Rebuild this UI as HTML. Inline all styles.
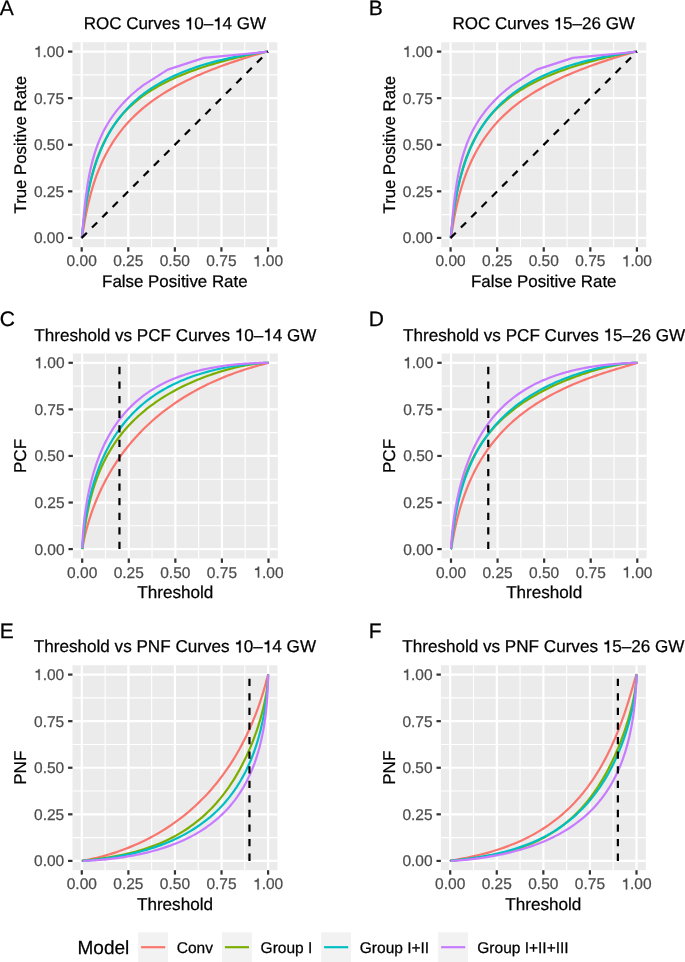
<!DOCTYPE html>
<html><head><meta charset="utf-8"><style>
html,body{margin:0;padding:0;background:#fff;}
svg{display:block;}
text{font-family:"Liberation Sans", sans-serif;text-rendering:geometricPrecision;stroke-width:0.25px;}
.mn{stroke:#fff;stroke-width:1.1;}
.mj{stroke:#fff;stroke-width:2.2;}
.tk{stroke:#333;stroke-width:2.2;}
.tl{font-size:15.5px;fill:#4D4D4D;stroke:#4D4D4D;}
.ti{font-size:17.1px;fill:#000;stroke:#000;}
.ax{font-size:17.1px;fill:#000;stroke:#000;}
.tag{font-size:21px;fill:#000;stroke:#000;}
.lt{font-size:19px;fill:#000;stroke:#000;}
.lx{font-size:15.5px;fill:#000;stroke:#000;}
.h1{fill:transparent;stroke:none;}
.cv{fill:none;stroke-width:2.2;stroke-linejoin:round;}
.ds{stroke:#000;stroke-width:2.2;stroke-dasharray:7.29 7.29;}
</style></head><body>
<div style="will-change:transform;width:685px;height:962px"><svg width="685" height="962" viewBox="0 0 685 962">
<rect x="72.39" y="42.28" width="204.93" height="204.93" fill="#EBEBEB"/>
<line x1="72.39" x2="277.31" y1="214.61" y2="214.61" class="mn"/>
<line y1="42.28" y2="247.22" x1="104.99" x2="104.99" class="mn"/>
<line x1="72.39" x2="277.31" y1="168.04" y2="168.04" class="mn"/>
<line y1="42.28" y2="247.22" x1="151.56" x2="151.56" class="mn"/>
<line x1="72.39" x2="277.31" y1="121.46" y2="121.46" class="mn"/>
<line y1="42.28" y2="247.22" x1="198.14" x2="198.14" class="mn"/>
<line x1="72.39" x2="277.31" y1="74.89" y2="74.89" class="mn"/>
<line y1="42.28" y2="247.22" x1="244.71" x2="244.71" class="mn"/>
<line x1="72.39" x2="277.31" y1="237.9" y2="237.9" class="mj"/>
<line y1="42.28" y2="247.22" x1="81.7" x2="81.7" class="mj"/>
<line x1="72.39" x2="277.31" y1="191.32" y2="191.32" class="mj"/>
<line y1="42.28" y2="247.22" x1="128.28" x2="128.28" class="mj"/>
<line x1="72.39" x2="277.31" y1="144.75" y2="144.75" class="mj"/>
<line y1="42.28" y2="247.22" x1="174.85" x2="174.85" class="mj"/>
<line x1="72.39" x2="277.31" y1="98.17" y2="98.17" class="mj"/>
<line y1="42.28" y2="247.22" x1="221.43" x2="221.43" class="mj"/>
<line x1="72.39" x2="277.31" y1="51.6" y2="51.6" class="mj"/>
<line y1="42.28" y2="247.22" x1="268" x2="268" class="mj"/>
<line x1="67.98" x2="72.39" y1="237.9" y2="237.9" class="tk"/>
<line y1="247.22" y2="251.62" x1="81.7" x2="81.7" class="tk"/>
<line x1="67.98" x2="72.39" y1="191.32" y2="191.32" class="tk"/>
<line y1="247.22" y2="251.62" x1="128.28" x2="128.28" class="tk"/>
<line x1="67.98" x2="72.39" y1="144.75" y2="144.75" class="tk"/>
<line y1="247.22" y2="251.62" x1="174.85" x2="174.85" class="tk"/>
<line x1="67.98" x2="72.39" y1="98.17" y2="98.17" class="tk"/>
<line y1="247.22" y2="251.62" x1="221.43" x2="221.43" class="tk"/>
<line x1="67.98" x2="72.39" y1="51.6" y2="51.6" class="tk"/>
<line y1="247.22" y2="251.62" x1="268" x2="268" class="tk"/>
<text x="64.09" y="243.35" class="tl" text-anchor="end">0.00</text>
<text x="81.7" y="266.42" class="tl" text-anchor="middle">0.00</text>
<text x="64.09" y="196.77" class="tl" text-anchor="end">0.25</text>
<text x="128.28" y="266.42" class="tl" text-anchor="middle">0.25</text>
<text x="64.09" y="150.2" class="tl" text-anchor="end">0.50</text>
<text x="174.85" y="266.42" class="tl" text-anchor="middle">0.50</text>
<text x="64.09" y="103.62" class="tl" text-anchor="end">0.75</text>
<text x="221.43" y="266.42" class="tl" text-anchor="middle">0.75</text>
<text x="64.09" y="57.05" class="tl" text-anchor="end"><tspan id="o1" class="h1">1</tspan>.00</text>
<text x="268" y="266.42" class="tl" text-anchor="middle"><tspan id="o2" class="h1">1</tspan>.00</text>
<polyline points="81.70,237.90 81.72,237.90 81.72,237.90 81.73,237.89 81.73,237.89 81.74,237.89 81.75,237.88 81.76,237.87 81.77,237.86 81.78,237.84 81.80,237.82 81.81,237.78 81.83,237.74 81.86,237.67 81.88,237.60 81.91,237.49 81.95,237.37 81.99,237.20 82.04,237.00 82.09,236.75 82.15,236.45 82.22,236.09 82.30,235.66 82.39,235.15 82.50,234.56 82.61,233.87 82.74,233.08 82.89,232.18 83.06,231.16 83.24,230.02 83.45,228.74 83.68,227.34 83.93,225.79 84.22,224.10 84.54,222.27 84.89,220.29 85.27,218.17 85.70,215.91 86.16,213.51 86.68,210.98 87.24,208.32 87.85,205.54 88.51,202.64 89.24,199.64 90.02,196.54 90.87,193.35 91.79,190.08 92.78,186.75 93.85,183.35 94.99,179.90 96.21,176.42 97.51,172.90 98.91,169.37 100.38,165.83 101.96,162.28 103.62,158.74 105.38,155.22 107.23,151.72 109.18,148.25 111.23,144.82 113.37,141.43 115.62,138.09 117.96,134.81 120.39,131.58 122.92,128.41 125.54,125.31 128.25,122.27 131.05,119.31 133.93,116.42 136.89,113.61 139.93,110.87 143.03,108.20 146.20,105.62 149.42,103.11 152.70,100.68 156.03,98.33 159.40,96.05 162.80,93.85 166.22,91.73 169.67,89.68 173.12,87.71 176.58,85.81 180.03,83.98 183.48,82.22 186.90,80.53 190.30,78.90 193.67,77.35 197.00,75.85 200.28,74.42 203.50,73.05 206.67,71.75 209.77,70.50 212.81,69.30 215.77,68.16 218.65,67.08 221.45,66.05 224.16,65.07 226.78,64.13 229.31,63.25 231.74,62.41 234.08,61.61 236.33,60.86 238.47,60.15 240.52,59.48 242.47,58.85 244.32,58.26 246.08,57.71 247.74,57.19 249.32,56.70 250.79,56.24 252.19,55.82 253.49,55.42 254.71,55.06 255.85,54.72 256.92,54.40 257.91,54.12 258.83,53.85 259.68,53.61 260.46,53.38 261.19,53.18 261.85,53.00 262.46,52.83 263.02,52.68 263.54,52.54 264.00,52.42 264.43,52.31 264.81,52.21 265.16,52.13 265.48,52.05 265.77,51.98 266.02,51.93 266.25,51.87 266.46,51.83 266.64,51.79 266.81,51.76 266.96,51.73 267.09,51.71 267.20,51.69 267.31,51.67 267.40,51.66 267.48,51.65 267.55,51.64 267.61,51.63 267.66,51.62 267.71,51.62 267.75,51.61 267.79,51.61 267.82,51.61 267.84,51.61 267.87,51.60 267.89,51.60 267.90,51.60 267.92,51.60 267.93,51.60 267.94,51.60 267.95,51.60 267.96,51.60 267.97,51.60 267.97,51.60 267.98,51.60 267.98,51.60 268.00,51.60" stroke="#F8766D" class="cv"/>
<polyline points="81.70,237.90 81.72,237.90 81.72,237.89 81.73,237.89 81.73,237.88 81.74,237.88 81.75,237.86 81.76,237.85 81.77,237.82 81.78,237.79 81.80,237.74 81.81,237.68 81.83,237.59 81.86,237.48 81.88,237.34 81.91,237.16 81.95,236.94 81.99,236.66 82.04,236.32 82.09,235.90 82.15,235.40 82.22,234.81 82.30,234.12 82.39,233.32 82.50,232.39 82.61,231.34 82.74,230.14 82.89,228.80 83.06,227.30 83.24,225.65 83.45,223.84 83.68,221.87 83.93,219.73 84.22,217.44 84.54,214.99 84.89,212.38 85.27,209.63 85.70,206.74 86.16,203.72 86.68,200.57 87.24,197.31 87.85,193.96 88.51,190.51 89.24,186.99 90.02,183.40 90.87,179.76 91.79,176.08 92.78,172.36 93.85,168.64 94.99,164.90 96.21,161.17 97.51,157.46 98.91,153.77 100.38,150.11 101.96,146.49 103.62,142.93 105.38,139.41 107.23,135.96 109.18,132.57 111.23,129.26 113.37,126.02 115.62,122.85 117.96,119.77 120.39,116.77 122.92,113.86 125.54,111.03 128.25,108.29 131.05,105.63 133.93,103.06 136.89,100.58 139.93,98.18 143.03,95.87 146.20,93.64 149.42,91.50 152.70,89.43 156.03,87.45 159.40,85.54 162.80,83.71 166.22,81.96 169.67,80.27 173.12,78.66 176.58,77.11 180.03,75.64 183.48,74.22 186.90,72.87 190.30,71.59 193.67,70.36 197.00,69.18 200.28,68.06 203.50,67.00 206.67,65.99 209.77,65.03 212.81,64.11 215.77,63.24 218.65,62.42 221.45,61.64 224.16,60.91 226.78,60.21 229.31,59.55 231.74,58.93 234.08,58.35 236.33,57.80 238.47,57.29 240.52,56.81 242.47,56.35 244.32,55.93 246.08,55.54 247.74,55.17 249.32,54.83 250.79,54.52 252.19,54.23 253.49,53.96 254.71,53.71 255.85,53.48 256.92,53.27 257.91,53.08 258.83,52.91 259.68,52.75 260.46,52.61 261.19,52.49 261.85,52.37 262.46,52.27 263.02,52.18 263.54,52.10 264.00,52.02 264.43,51.96 264.81,51.91 265.16,51.86 265.48,51.82 265.77,51.78 266.02,51.75 266.25,51.72 266.46,51.70 266.64,51.68 266.81,51.67 266.96,51.65 267.09,51.64 267.20,51.63 267.31,51.63 267.40,51.62 267.48,51.62 267.55,51.61 267.61,51.61 267.66,51.61 267.71,51.61 267.75,51.60 267.79,51.60 267.82,51.60 267.84,51.60 267.87,51.60 267.89,51.60 267.90,51.60 267.92,51.60 267.93,51.60 267.94,51.60 267.95,51.60 267.96,51.60 267.97,51.60 267.97,51.60 267.98,51.60 267.98,51.60 268.00,51.60" stroke="#7CAE00" class="cv"/>
<polyline points="81.70,237.90 81.72,237.86 81.72,237.84 81.73,237.82 81.73,237.79 81.74,237.75 81.75,237.71 81.76,237.65 81.77,237.58 81.78,237.48 81.80,237.37 81.81,237.23 81.83,237.06 81.86,236.85 81.88,236.61 81.91,236.32 81.95,235.98 81.99,235.57 82.04,235.11 82.09,234.57 82.15,233.95 82.22,233.24 82.30,232.45 82.39,231.55 82.50,230.54 82.61,229.43 82.74,228.19 82.89,226.83 83.06,225.34 83.24,223.72 83.45,221.96 83.68,220.07 83.93,218.04 84.22,215.87 84.54,213.56 84.89,211.12 85.27,208.54 85.70,205.84 86.16,203.01 86.68,200.07 87.24,197.01 87.85,193.85 88.51,190.59 89.24,187.24 90.02,183.82 90.87,180.33 91.79,176.77 92.78,173.17 93.85,169.53 94.99,165.86 96.21,162.17 97.51,158.47 98.91,154.77 100.38,151.08 101.96,147.41 103.62,143.77 105.38,140.16 107.23,136.60 109.18,133.08 111.23,129.63 113.37,126.23 115.62,122.91 117.96,119.66 120.39,116.48 122.92,113.39 125.54,110.38 128.25,107.47 131.05,104.64 133.93,101.90 136.89,99.25 139.93,96.70 143.03,94.25 146.20,91.88 149.42,89.61 152.70,87.44 156.03,85.35 159.40,83.36 162.80,81.46 166.22,79.64 169.67,77.91 173.12,76.26 176.58,74.70 180.03,73.21 183.48,71.80 186.90,70.47 190.30,69.21 193.67,68.01 197.00,66.88 200.28,65.82 203.50,64.82 206.67,63.88 209.77,62.99 212.81,62.16 215.77,61.38 218.65,60.65 221.45,59.96 224.16,59.32 226.78,58.72 229.31,58.16 231.74,57.64 234.08,57.15 236.33,56.70 238.47,56.28 240.52,55.89 242.47,55.53 244.32,55.19 246.08,54.88 247.74,54.59 249.32,54.33 250.79,54.08 252.19,53.86 253.49,53.65 254.71,53.46 255.85,53.28 256.92,53.12 257.91,52.97 258.83,52.84 259.68,52.72 260.46,52.60 261.19,52.50 261.85,52.41 262.46,52.32 263.02,52.25 263.54,52.18 264.00,52.11 264.43,52.06 264.81,52.01 265.16,51.96 265.48,51.92 265.77,51.88 266.02,51.85 266.25,51.82 266.46,51.79 266.64,51.77 266.81,51.75 266.96,51.73 267.09,51.71 267.20,51.70 267.31,51.68 267.40,51.67 267.48,51.66 267.55,51.65 267.61,51.65 267.66,51.64 267.71,51.63 267.75,51.63 267.79,51.62 267.82,51.62 267.84,51.62 267.87,51.61 267.89,51.61 267.90,51.61 267.92,51.61 267.93,51.61 267.94,51.61 267.95,51.60 267.96,51.60 267.97,51.60 267.97,51.60 267.98,51.60 267.98,51.60 268.00,51.60" stroke="#00BFC4" class="cv"/>
<polyline points="81.70,237.90 81.72,237.90 81.72,237.90 81.73,237.90 81.73,237.90 81.74,237.90 81.75,237.90 81.76,237.89 81.77,237.88 81.78,237.87 81.80,237.85 81.81,237.82 81.83,237.77 81.86,237.69 81.88,237.58 81.91,237.43 81.95,237.22 81.99,236.94 82.04,236.57 82.09,236.10 82.15,235.51 82.22,234.78 82.30,233.90 82.39,232.84 82.50,231.61 82.61,230.17 82.74,228.54 82.89,226.70 83.06,224.65 83.24,222.40 83.45,219.94 83.68,217.28 83.93,214.44 84.22,211.43 84.54,208.25 84.89,204.94 85.27,201.49 85.70,197.94 86.16,194.30 86.68,190.57 87.24,186.79 87.85,182.97 88.51,179.12 89.24,175.25 90.02,171.38 90.87,167.52 91.79,163.67 92.78,159.86 93.85,156.08 94.99,152.35 96.21,148.66 97.51,145.02 98.91,141.44 100.38,137.92 101.96,134.47 103.62,131.07 105.38,127.74 107.23,124.47 109.18,121.26 111.23,118.13 113.37,115.05 115.62,112.04 117.96,109.09 120.39,106.21 122.92,103.39 125.54,100.63 128.25,97.94 131.05,95.30 133.93,92.74 136.89,90.23 139.93,87.80 143.03,85.43 167.77,69.67 203.91,57.84 219.93,56.44 244.53,54.02 268.00,51.60" stroke="#C77CFF" class="cv"/>
<line x1="81.7" y1="237.9" x2="268" y2="51.6" class="ds"/>
<text x="174.85" y="29.48" class="ti" text-anchor="middle" style="font-size:17px">ROC Curves <tspan id="o3" class="h1">1</tspan>0–<tspan id="o4" class="h1">1</tspan>4 GW</text>
<text x="174.85" y="286.62" class="ax" text-anchor="middle" style="font-size:16.9px">False Positive Rate</text>
<text transform="translate(26.2,144.75) rotate(-90)" class="ax" text-anchor="middle" style="font-size:16.8px">True Positive Rate</text>
<text x="-0.2" y="14.93" class="tag">A</text>
<rect x="441.29" y="42.28" width="204.93" height="204.93" fill="#EBEBEB"/>
<line x1="441.29" x2="646.22" y1="214.61" y2="214.61" class="mn"/>
<line y1="42.28" y2="247.22" x1="473.89" x2="473.89" class="mn"/>
<line x1="441.29" x2="646.22" y1="168.04" y2="168.04" class="mn"/>
<line y1="42.28" y2="247.22" x1="520.46" x2="520.46" class="mn"/>
<line x1="441.29" x2="646.22" y1="121.46" y2="121.46" class="mn"/>
<line y1="42.28" y2="247.22" x1="567.04" x2="567.04" class="mn"/>
<line x1="441.29" x2="646.22" y1="74.89" y2="74.89" class="mn"/>
<line y1="42.28" y2="247.22" x1="613.61" x2="613.61" class="mn"/>
<line x1="441.29" x2="646.22" y1="237.9" y2="237.9" class="mj"/>
<line y1="42.28" y2="247.22" x1="450.6" x2="450.6" class="mj"/>
<line x1="441.29" x2="646.22" y1="191.32" y2="191.32" class="mj"/>
<line y1="42.28" y2="247.22" x1="497.18" x2="497.18" class="mj"/>
<line x1="441.29" x2="646.22" y1="144.75" y2="144.75" class="mj"/>
<line y1="42.28" y2="247.22" x1="543.75" x2="543.75" class="mj"/>
<line x1="441.29" x2="646.22" y1="98.17" y2="98.17" class="mj"/>
<line y1="42.28" y2="247.22" x1="590.33" x2="590.33" class="mj"/>
<line x1="441.29" x2="646.22" y1="51.6" y2="51.6" class="mj"/>
<line y1="42.28" y2="247.22" x1="636.9" x2="636.9" class="mj"/>
<line x1="436.89" x2="441.29" y1="237.9" y2="237.9" class="tk"/>
<line y1="247.22" y2="251.62" x1="450.6" x2="450.6" class="tk"/>
<line x1="436.89" x2="441.29" y1="191.32" y2="191.32" class="tk"/>
<line y1="247.22" y2="251.62" x1="497.18" x2="497.18" class="tk"/>
<line x1="436.89" x2="441.29" y1="144.75" y2="144.75" class="tk"/>
<line y1="247.22" y2="251.62" x1="543.75" x2="543.75" class="tk"/>
<line x1="436.89" x2="441.29" y1="98.17" y2="98.17" class="tk"/>
<line y1="247.22" y2="251.62" x1="590.33" x2="590.33" class="tk"/>
<line x1="436.89" x2="441.29" y1="51.6" y2="51.6" class="tk"/>
<line y1="247.22" y2="251.62" x1="636.9" x2="636.9" class="tk"/>
<text x="432.99" y="243.35" class="tl" text-anchor="end">0.00</text>
<text x="450.6" y="266.42" class="tl" text-anchor="middle">0.00</text>
<text x="432.99" y="196.77" class="tl" text-anchor="end">0.25</text>
<text x="497.18" y="266.42" class="tl" text-anchor="middle">0.25</text>
<text x="432.99" y="150.2" class="tl" text-anchor="end">0.50</text>
<text x="543.75" y="266.42" class="tl" text-anchor="middle">0.50</text>
<text x="432.99" y="103.62" class="tl" text-anchor="end">0.75</text>
<text x="590.33" y="266.42" class="tl" text-anchor="middle">0.75</text>
<text x="432.99" y="57.05" class="tl" text-anchor="end"><tspan id="o5" class="h1">1</tspan>.00</text>
<text x="636.9" y="266.42" class="tl" text-anchor="middle"><tspan id="o6" class="h1">1</tspan>.00</text>
<polyline points="450.60,237.90 450.62,237.90 450.62,237.90 450.63,237.89 450.63,237.89 450.64,237.89 450.65,237.88 450.66,237.87 450.67,237.86 450.68,237.84 450.70,237.82 450.71,237.78 450.73,237.74 450.76,237.67 450.78,237.60 450.81,237.49 450.85,237.37 450.89,237.20 450.94,237.00 450.99,236.75 451.05,236.45 451.12,236.09 451.20,235.66 451.29,235.15 451.40,234.56 451.51,233.87 451.64,233.08 451.79,232.18 451.96,231.16 452.14,230.02 452.35,228.74 452.58,227.34 452.83,225.79 453.12,224.10 453.44,222.27 453.79,220.29 454.17,218.17 454.60,215.91 455.06,213.51 455.58,210.98 456.14,208.32 456.75,205.54 457.41,202.64 458.14,199.64 458.92,196.54 459.77,193.35 460.69,190.08 461.68,186.75 462.75,183.35 463.89,179.90 465.11,176.42 466.41,172.90 467.81,169.37 469.28,165.83 470.86,162.28 472.52,158.74 474.28,155.22 476.13,151.72 478.08,148.25 480.13,144.82 482.27,141.43 484.52,138.09 486.86,134.81 489.29,131.58 491.82,128.41 494.44,125.31 497.15,122.27 499.95,119.31 502.83,116.42 505.79,113.61 508.83,110.87 511.93,108.20 515.10,105.62 518.32,103.11 521.60,100.68 524.93,98.33 528.30,96.05 531.70,93.85 535.12,91.73 538.57,89.68 542.02,87.71 545.48,85.81 548.93,83.98 552.38,82.22 555.80,80.53 559.20,78.90 562.57,77.35 565.90,75.85 569.18,74.42 572.40,73.05 575.57,71.75 578.67,70.50 581.71,69.30 584.67,68.16 587.55,67.08 590.35,66.05 593.06,65.07 595.68,64.13 598.21,63.25 600.64,62.41 602.98,61.61 605.23,60.86 607.37,60.15 609.42,59.48 611.37,58.85 613.22,58.26 614.98,57.71 616.64,57.19 618.22,56.70 619.69,56.24 621.09,55.82 622.39,55.42 623.61,55.06 624.75,54.72 625.82,54.40 626.81,54.12 627.73,53.85 628.58,53.61 629.36,53.38 630.09,53.18 630.75,53.00 631.36,52.83 631.92,52.68 632.44,52.54 632.90,52.42 633.33,52.31 633.71,52.21 634.06,52.13 634.38,52.05 634.67,51.98 634.92,51.93 635.15,51.87 635.36,51.83 635.54,51.79 635.71,51.76 635.86,51.73 635.99,51.71 636.10,51.69 636.21,51.67 636.30,51.66 636.38,51.65 636.45,51.64 636.51,51.63 636.56,51.62 636.61,51.62 636.65,51.61 636.69,51.61 636.72,51.61 636.74,51.61 636.77,51.60 636.79,51.60 636.80,51.60 636.82,51.60 636.83,51.60 636.84,51.60 636.85,51.60 636.86,51.60 636.87,51.60 636.87,51.60 636.88,51.60 636.88,51.60 636.90,51.60" stroke="#F8766D" class="cv"/>
<polyline points="450.60,237.90 450.62,237.90 450.62,237.89 450.63,237.89 450.63,237.88 450.64,237.88 450.65,237.86 450.66,237.85 450.67,237.82 450.68,237.79 450.70,237.74 450.71,237.68 450.73,237.59 450.76,237.48 450.78,237.34 450.81,237.16 450.85,236.94 450.89,236.66 450.94,236.32 450.99,235.90 451.05,235.40 451.12,234.81 451.20,234.12 451.29,233.32 451.40,232.39 451.51,231.34 451.64,230.14 451.79,228.80 451.96,227.30 452.14,225.65 452.35,223.84 452.58,221.87 452.83,219.73 453.12,217.44 453.44,214.99 453.79,212.38 454.17,209.63 454.60,206.74 455.06,203.72 455.58,200.57 456.14,197.31 456.75,193.96 457.41,190.51 458.14,186.99 458.92,183.40 459.77,179.76 460.69,176.08 461.68,172.36 462.75,168.64 463.89,164.90 465.11,161.17 466.41,157.46 467.81,153.77 469.28,150.11 470.86,146.49 472.52,142.93 474.28,139.41 476.13,135.96 478.08,132.57 480.13,129.26 482.27,126.02 484.52,122.85 486.86,119.77 489.29,116.77 491.82,113.86 494.44,111.03 497.15,108.29 499.95,105.63 502.83,103.06 505.79,100.58 508.83,98.18 511.93,95.87 515.10,93.64 518.32,91.50 521.60,89.43 524.93,87.45 528.30,85.54 531.70,83.71 535.12,81.96 538.57,80.27 542.02,78.66 545.48,77.11 548.93,75.64 552.38,74.22 555.80,72.87 559.20,71.59 562.57,70.36 565.90,69.18 569.18,68.06 572.40,67.00 575.57,65.99 578.67,65.03 581.71,64.11 584.67,63.24 587.55,62.42 590.35,61.64 593.06,60.91 595.68,60.21 598.21,59.55 600.64,58.93 602.98,58.35 605.23,57.80 607.37,57.29 609.42,56.81 611.37,56.35 613.22,55.93 614.98,55.54 616.64,55.17 618.22,54.83 619.69,54.52 621.09,54.23 622.39,53.96 623.61,53.71 624.75,53.48 625.82,53.27 626.81,53.08 627.73,52.91 628.58,52.75 629.36,52.61 630.09,52.49 630.75,52.37 631.36,52.27 631.92,52.18 632.44,52.10 632.90,52.02 633.33,51.96 633.71,51.91 634.06,51.86 634.38,51.82 634.67,51.78 634.92,51.75 635.15,51.72 635.36,51.70 635.54,51.68 635.71,51.67 635.86,51.65 635.99,51.64 636.10,51.63 636.21,51.63 636.30,51.62 636.38,51.62 636.45,51.61 636.51,51.61 636.56,51.61 636.61,51.61 636.65,51.60 636.69,51.60 636.72,51.60 636.74,51.60 636.77,51.60 636.79,51.60 636.80,51.60 636.82,51.60 636.83,51.60 636.84,51.60 636.85,51.60 636.86,51.60 636.87,51.60 636.87,51.60 636.88,51.60 636.88,51.60 636.90,51.60" stroke="#7CAE00" class="cv"/>
<polyline points="450.60,237.90 450.62,237.86 450.62,237.84 450.63,237.82 450.63,237.79 450.64,237.75 450.65,237.71 450.66,237.65 450.67,237.58 450.68,237.48 450.70,237.37 450.71,237.23 450.73,237.06 450.76,236.85 450.78,236.61 450.81,236.32 450.85,235.98 450.89,235.57 450.94,235.11 450.99,234.57 451.05,233.95 451.12,233.24 451.20,232.45 451.29,231.55 451.40,230.54 451.51,229.43 451.64,228.19 451.79,226.83 451.96,225.34 452.14,223.72 452.35,221.96 452.58,220.07 452.83,218.04 453.12,215.87 453.44,213.56 453.79,211.12 454.17,208.54 454.60,205.84 455.06,203.01 455.58,200.07 456.14,197.01 456.75,193.85 457.41,190.59 458.14,187.24 458.92,183.82 459.77,180.33 460.69,176.77 461.68,173.17 462.75,169.53 463.89,165.86 465.11,162.17 466.41,158.47 467.81,154.77 469.28,151.08 470.86,147.41 472.52,143.77 474.28,140.16 476.13,136.60 478.08,133.08 480.13,129.63 482.27,126.23 484.52,122.91 486.86,119.66 489.29,116.48 491.82,113.39 494.44,110.38 497.15,107.47 499.95,104.64 502.83,101.90 505.79,99.25 508.83,96.70 511.93,94.25 515.10,91.88 518.32,89.61 521.60,87.44 524.93,85.35 528.30,83.36 531.70,81.46 535.12,79.64 538.57,77.91 542.02,76.26 545.48,74.70 548.93,73.21 552.38,71.80 555.80,70.47 559.20,69.21 562.57,68.01 565.90,66.88 569.18,65.82 572.40,64.82 575.57,63.88 578.67,62.99 581.71,62.16 584.67,61.38 587.55,60.65 590.35,59.96 593.06,59.32 595.68,58.72 598.21,58.16 600.64,57.64 602.98,57.15 605.23,56.70 607.37,56.28 609.42,55.89 611.37,55.53 613.22,55.19 614.98,54.88 616.64,54.59 618.22,54.33 619.69,54.08 621.09,53.86 622.39,53.65 623.61,53.46 624.75,53.28 625.82,53.12 626.81,52.97 627.73,52.84 628.58,52.72 629.36,52.60 630.09,52.50 630.75,52.41 631.36,52.32 631.92,52.25 632.44,52.18 632.90,52.11 633.33,52.06 633.71,52.01 634.06,51.96 634.38,51.92 634.67,51.88 634.92,51.85 635.15,51.82 635.36,51.79 635.54,51.77 635.71,51.75 635.86,51.73 635.99,51.71 636.10,51.70 636.21,51.68 636.30,51.67 636.38,51.66 636.45,51.65 636.51,51.65 636.56,51.64 636.61,51.63 636.65,51.63 636.69,51.62 636.72,51.62 636.74,51.62 636.77,51.61 636.79,51.61 636.80,51.61 636.82,51.61 636.83,51.61 636.84,51.61 636.85,51.60 636.86,51.60 636.87,51.60 636.87,51.60 636.88,51.60 636.88,51.60 636.90,51.60" stroke="#00BFC4" class="cv"/>
<polyline points="450.60,237.90 450.62,237.90 450.62,237.90 450.63,237.90 450.63,237.90 450.64,237.90 450.65,237.90 450.66,237.89 450.67,237.88 450.68,237.87 450.70,237.85 450.71,237.82 450.73,237.77 450.76,237.69 450.78,237.58 450.81,237.43 450.85,237.22 450.89,236.94 450.94,236.57 450.99,236.10 451.05,235.51 451.12,234.78 451.20,233.90 451.29,232.84 451.40,231.61 451.51,230.17 451.64,228.54 451.79,226.70 451.96,224.65 452.14,222.40 452.35,219.94 452.58,217.28 452.83,214.44 453.12,211.43 453.44,208.25 453.79,204.94 454.17,201.49 454.60,197.94 455.06,194.30 455.58,190.57 456.14,186.79 456.75,182.97 457.41,179.12 458.14,175.25 458.92,171.38 459.77,167.52 460.69,163.67 461.68,159.86 462.75,156.08 463.89,152.35 465.11,148.66 466.41,145.02 467.81,141.44 469.28,137.92 470.86,134.47 472.52,131.07 474.28,127.74 476.13,124.47 478.08,121.26 480.13,118.13 482.27,115.05 484.52,112.04 486.86,109.09 489.29,106.21 491.82,103.39 494.44,100.63 497.15,97.94 499.95,95.30 502.83,92.74 505.79,90.23 508.83,87.80 511.93,85.43 536.67,69.67 572.81,57.84 588.83,56.44 613.43,54.02 636.90,51.60" stroke="#C77CFF" class="cv"/>
<line x1="450.6" y1="237.9" x2="636.9" y2="51.6" class="ds"/>
<text x="543.75" y="29.48" class="ti" text-anchor="middle" style="font-size:17px">ROC Curves <tspan id="o7" class="h1">1</tspan>5–26 GW</text>
<text x="543.75" y="286.62" class="ax" text-anchor="middle" style="font-size:16.9px">False Positive Rate</text>
<text transform="translate(395.2,144.75) rotate(-90)" class="ax" text-anchor="middle" style="font-size:16.8px">True Positive Rate</text>
<text x="368.8" y="14.93" class="tag">B</text>
<rect x="72.89" y="353.49" width="204.93" height="204.93" fill="#EBEBEB"/>
<line x1="72.89" x2="277.81" y1="525.81" y2="525.81" class="mn"/>
<line y1="353.49" y2="558.42" x1="105.49" x2="105.49" class="mn"/>
<line x1="72.89" x2="277.81" y1="479.24" y2="479.24" class="mn"/>
<line y1="353.49" y2="558.42" x1="152.06" x2="152.06" class="mn"/>
<line x1="72.89" x2="277.81" y1="432.66" y2="432.66" class="mn"/>
<line y1="353.49" y2="558.42" x1="198.64" x2="198.64" class="mn"/>
<line x1="72.89" x2="277.81" y1="386.09" y2="386.09" class="mn"/>
<line y1="353.49" y2="558.42" x1="245.21" x2="245.21" class="mn"/>
<line x1="72.89" x2="277.81" y1="549.1" y2="549.1" class="mj"/>
<line y1="353.49" y2="558.42" x1="82.2" x2="82.2" class="mj"/>
<line x1="72.89" x2="277.81" y1="502.53" y2="502.53" class="mj"/>
<line y1="353.49" y2="558.42" x1="128.78" x2="128.78" class="mj"/>
<line x1="72.89" x2="277.81" y1="455.95" y2="455.95" class="mj"/>
<line y1="353.49" y2="558.42" x1="175.35" x2="175.35" class="mj"/>
<line x1="72.89" x2="277.81" y1="409.38" y2="409.38" class="mj"/>
<line y1="353.49" y2="558.42" x1="221.93" x2="221.93" class="mj"/>
<line x1="72.89" x2="277.81" y1="362.8" y2="362.8" class="mj"/>
<line y1="353.49" y2="558.42" x1="268.5" x2="268.5" class="mj"/>
<line x1="68.48" x2="72.89" y1="549.1" y2="549.1" class="tk"/>
<line y1="558.42" y2="562.82" x1="82.2" x2="82.2" class="tk"/>
<line x1="68.48" x2="72.89" y1="502.53" y2="502.53" class="tk"/>
<line y1="558.42" y2="562.82" x1="128.78" x2="128.78" class="tk"/>
<line x1="68.48" x2="72.89" y1="455.95" y2="455.95" class="tk"/>
<line y1="558.42" y2="562.82" x1="175.35" x2="175.35" class="tk"/>
<line x1="68.48" x2="72.89" y1="409.38" y2="409.38" class="tk"/>
<line y1="558.42" y2="562.82" x1="221.93" x2="221.93" class="tk"/>
<line x1="68.48" x2="72.89" y1="362.8" y2="362.8" class="tk"/>
<line y1="558.42" y2="562.82" x1="268.5" x2="268.5" class="tk"/>
<text x="64.59" y="554.55" class="tl" text-anchor="end">0.00</text>
<text x="82.2" y="577.62" class="tl" text-anchor="middle">0.00</text>
<text x="64.59" y="507.98" class="tl" text-anchor="end">0.25</text>
<text x="128.78" y="577.62" class="tl" text-anchor="middle">0.25</text>
<text x="64.59" y="461.4" class="tl" text-anchor="end">0.50</text>
<text x="175.35" y="577.62" class="tl" text-anchor="middle">0.50</text>
<text x="64.59" y="414.82" class="tl" text-anchor="end">0.75</text>
<text x="221.93" y="577.62" class="tl" text-anchor="middle">0.75</text>
<text x="64.59" y="368.25" class="tl" text-anchor="end"><tspan id="o8" class="h1">1</tspan>.00</text>
<text x="268.5" y="577.62" class="tl" text-anchor="middle"><tspan id="o9" class="h1">1</tspan>.00</text>
<polyline points="82.22,549.03 82.22,549.01 82.23,548.99 82.23,548.96 82.24,548.92 82.25,548.88 82.26,548.84 82.27,548.78 82.28,548.71 82.30,548.63 82.31,548.53 82.33,548.42 82.36,548.29 82.38,548.14 82.41,547.97 82.45,547.76 82.49,547.53 82.54,547.27 82.59,546.97 82.65,546.62 82.72,546.24 82.80,545.80 82.89,545.31 83.00,544.77 83.11,544.16 83.24,543.49 83.39,542.75 83.56,541.93 83.74,541.03 83.95,540.05 84.18,538.99 84.43,537.83 84.72,536.58 85.04,535.22 85.39,533.77 85.77,532.22 86.20,530.55 86.66,528.78 87.18,526.90 87.74,524.91 88.35,522.82 89.01,520.61 89.74,518.29 90.52,515.87 91.37,513.34 92.29,510.71 93.28,507.99 94.35,505.17 95.49,502.26 96.71,499.26 98.01,496.19 99.41,493.04 100.88,489.83 102.46,486.56 104.12,483.23 105.88,479.86 107.73,476.46 109.68,473.02 111.73,469.56 113.87,466.08 116.12,462.60 118.46,459.12 120.89,455.65 123.42,452.20 126.04,448.77 128.75,445.37 131.55,442.01 134.43,438.69 137.39,435.42 140.43,432.21 143.53,429.06 146.70,425.97 149.92,422.95 153.20,420.01 156.53,417.15 159.90,414.36 163.30,411.66 166.72,409.05 170.17,406.52 173.62,404.08 177.08,401.73 180.53,399.47 183.98,397.30 187.40,395.23 190.80,393.24 194.17,391.34 197.50,389.52 200.78,387.80 204.00,386.16 207.17,384.60 210.27,383.12 213.31,381.72 216.27,380.40 219.15,379.15 221.95,377.98 224.66,376.87 227.28,375.83 229.81,374.85 232.24,373.94 234.58,373.08 236.83,372.28 238.97,371.53 241.02,370.84 242.97,370.19 244.82,369.58 246.58,369.02 248.24,368.50 249.82,368.02 251.29,367.58 252.69,367.16 253.99,366.78 255.21,366.43 256.35,366.11 257.42,365.81 258.41,365.54 259.33,365.29 260.18,365.06 260.96,364.85 261.69,364.65 262.35,364.48 262.96,364.32 263.52,364.17 264.04,364.04 264.50,363.92 264.93,363.81 265.31,363.71 265.66,363.61 265.98,363.53 266.27,363.46 266.52,363.39 266.75,363.33 266.96,363.27 267.14,363.22 267.31,363.18 267.46,363.14 267.59,363.10 267.70,363.07 267.81,363.04 267.90,363.01 267.98,362.99 268.05,362.97 268.11,362.95 268.16,362.93 268.21,362.92 268.25,362.90 268.29,362.89 268.32,362.88 268.34,362.87 268.37,362.86 268.39,362.86 268.40,362.85 268.42,362.84 268.43,362.84 268.44,362.83 268.45,362.83 268.46,362.83 268.47,362.82 268.47,362.82 268.48,362.82 268.48,362.82 268.50,362.80" stroke="#F8766D" class="cv"/>
<polyline points="82.22,549.07 82.22,549.06 82.23,549.04 82.23,549.02 82.24,548.99 82.25,548.95 82.26,548.90 82.27,548.83 82.28,548.75 82.30,548.65 82.31,548.52 82.33,548.36 82.36,548.17 82.38,547.94 82.41,547.67 82.45,547.34 82.49,546.96 82.54,546.52 82.59,546.01 82.65,545.42 82.72,544.75 82.80,543.99 82.89,543.13 83.00,542.18 83.11,541.12 83.24,539.95 83.39,538.66 83.56,537.26 83.74,535.73 83.95,534.08 84.18,532.31 84.43,530.42 84.72,528.39 85.04,526.25 85.39,523.99 85.77,521.60 86.20,519.11 86.66,516.50 87.18,513.78 87.74,510.97 88.35,508.06 89.01,505.07 89.74,501.99 90.52,498.84 91.37,495.62 92.29,492.35 93.28,489.02 94.35,485.65 95.49,482.24 96.71,478.81 98.01,475.35 99.41,471.88 100.88,468.41 102.46,464.94 104.12,461.47 105.88,458.03 107.73,454.60 109.68,451.20 111.73,447.83 113.87,444.50 116.12,441.21 118.46,437.97 120.89,434.78 123.42,431.65 126.04,428.58 128.75,425.57 131.55,422.62 134.43,419.75 137.39,416.94 140.43,414.21 143.53,411.55 146.70,408.97 149.92,406.47 153.20,404.05 156.53,401.70 159.90,399.44 163.30,397.26 166.72,395.15 170.17,393.13 173.62,391.19 177.08,389.33 180.53,387.55 183.98,385.85 187.40,384.23 190.80,382.68 194.17,381.21 197.50,379.82 200.78,378.50 204.00,377.25 207.17,376.07 210.27,374.96 213.31,373.91 216.27,372.94 219.15,372.02 221.95,371.17 224.66,370.37 227.28,369.63 229.81,368.95 232.24,368.32 234.58,367.74 236.83,367.20 238.97,366.71 241.02,366.27 242.97,365.86 244.82,365.49 246.58,365.16 248.24,364.86 249.82,364.59 251.29,364.35 252.69,364.14 253.99,363.95 255.21,363.78 256.35,363.63 257.42,363.50 258.41,363.39 259.33,363.30 260.18,363.21 260.96,363.14 261.69,363.08 262.35,363.03 262.96,362.99 263.52,362.95 264.04,362.92 264.50,362.90 264.93,362.88 265.31,362.86 265.66,362.85 265.98,362.84 266.27,362.83 266.52,362.82 266.75,362.82 266.96,362.81 267.14,362.81 267.31,362.81 267.46,362.80 267.59,362.80 267.70,362.80 267.81,362.80 267.90,362.80 267.98,362.80 268.05,362.80 268.11,362.80 268.16,362.80 268.21,362.80 268.25,362.80 268.29,362.80 268.32,362.80 268.34,362.80 268.37,362.80 268.39,362.80 268.40,362.80 268.42,362.80 268.43,362.80 268.44,362.80 268.45,362.80 268.46,362.80 268.47,362.80 268.47,362.80 268.48,362.80 268.48,362.80 268.50,362.80" stroke="#7CAE00" class="cv"/>
<polyline points="82.22,548.83 82.22,548.77 82.23,548.70 82.23,548.61 82.24,548.51 82.25,548.39 82.26,548.25 82.27,548.09 82.28,547.90 82.30,547.68 82.31,547.43 82.33,547.14 82.36,546.81 82.38,546.44 82.41,546.01 82.45,545.54 82.49,545.00 82.54,544.40 82.59,543.74 82.65,543.00 82.72,542.18 82.80,541.28 82.89,540.29 83.00,539.22 83.11,538.04 83.24,536.76 83.39,535.38 83.56,533.90 83.74,532.30 83.95,530.58 84.18,528.76 84.43,526.81 84.72,524.75 85.04,522.56 85.39,520.26 85.77,517.85 86.20,515.31 86.66,512.67 87.18,509.91 87.74,507.04 88.35,504.08 89.01,501.01 89.74,497.86 90.52,494.62 91.37,491.29 92.29,487.90 93.28,484.44 94.35,480.93 95.49,477.36 96.71,473.76 98.01,470.13 99.41,466.47 100.88,462.80 102.46,459.13 104.12,455.46 105.88,451.80 107.73,448.16 109.68,444.56 111.73,440.99 113.87,437.47 116.12,434.00 118.46,430.59 120.89,427.25 123.42,423.97 126.04,420.78 128.75,417.67 131.55,414.64 134.43,411.71 137.39,408.87 140.43,406.13 143.53,403.49 146.70,400.94 149.92,398.50 153.20,396.16 156.53,393.93 159.90,391.80 163.30,389.77 166.72,387.84 170.17,386.01 173.62,384.28 177.08,382.65 180.53,381.11 183.98,379.66 187.40,378.30 190.80,377.02 194.17,375.83 197.50,374.72 200.78,373.68 204.00,372.72 207.17,371.83 210.27,371.00 213.31,370.24 216.27,369.53 219.15,368.88 221.95,368.29 224.66,367.74 227.28,367.24 229.81,366.78 232.24,366.37 234.58,365.99 236.83,365.64 238.97,365.33 241.02,365.05 242.97,364.80 244.82,364.57 246.58,364.36 248.24,364.18 249.82,364.01 251.29,363.87 252.69,363.73 253.99,363.62 255.21,363.51 256.35,363.42 257.42,363.34 258.41,363.27 259.33,363.21 260.18,363.15 260.96,363.10 261.69,363.06 262.35,363.02 262.96,362.99 263.52,362.96 264.04,362.94 264.50,362.92 264.93,362.90 265.31,362.89 265.66,362.87 265.98,362.86 266.27,362.85 266.52,362.84 266.75,362.84 266.96,362.83 267.14,362.82 267.31,362.82 267.46,362.82 267.59,362.81 267.70,362.81 267.81,362.81 267.90,362.81 267.98,362.81 268.05,362.81 268.11,362.80 268.16,362.80 268.21,362.80 268.25,362.80 268.29,362.80 268.32,362.80 268.34,362.80 268.37,362.80 268.39,362.80 268.40,362.80 268.42,362.80 268.43,362.80 268.44,362.80 268.45,362.80 268.46,362.80 268.47,362.80 268.47,362.80 268.48,362.80 268.48,362.80 268.50,362.80" stroke="#00BFC4" class="cv"/>
<polyline points="82.22,547.99 82.22,547.82 82.23,547.63 82.23,547.42 82.24,547.18 82.25,546.91 82.26,546.60 82.27,546.27 82.28,545.89 82.30,545.47 82.31,545.01 82.33,544.50 82.36,543.94 82.38,543.32 82.41,542.64 82.45,541.90 82.49,541.09 82.54,540.21 82.59,539.26 82.65,538.22 82.72,537.11 82.80,535.90 82.89,534.61 83.00,533.22 83.11,531.74 83.24,530.16 83.39,528.47 83.56,526.69 83.74,524.79 83.95,522.79 84.18,520.69 84.43,518.47 84.72,516.15 85.04,513.72 85.39,511.18 85.77,508.54 86.20,505.80 86.66,502.95 87.18,500.02 87.74,496.99 88.35,493.87 89.01,490.67 89.74,487.40 90.52,484.06 91.37,480.65 92.29,477.19 93.28,473.68 94.35,470.13 95.49,466.55 96.71,462.94 98.01,459.32 99.41,455.69 100.88,452.07 102.46,448.45 104.12,444.85 105.88,441.28 107.73,437.74 109.68,434.25 111.73,430.81 113.87,427.42 116.12,424.10 118.46,420.86 120.89,417.69 123.42,414.60 126.04,411.60 128.75,408.69 131.55,405.88 134.43,403.17 137.39,400.56 140.43,398.05 143.53,395.65 146.70,393.35 149.92,391.16 153.20,389.08 156.53,387.11 159.90,385.24 163.30,383.47 166.72,381.81 170.17,380.24 173.62,378.78 177.08,377.40 180.53,376.12 183.98,374.93 187.40,373.82 190.80,372.79 194.17,371.84 197.50,370.96 200.78,370.16 204.00,369.42 207.17,368.74 210.27,368.12 213.31,367.55 216.27,367.04 219.15,366.57 221.95,366.15 224.66,365.77 227.28,365.43 229.81,365.12 232.24,364.84 234.58,364.59 236.83,364.37 238.97,364.17 241.02,364.00 242.97,363.85 244.82,363.71 246.58,363.59 248.24,363.48 249.82,363.39 251.29,363.31 252.69,363.24 253.99,363.17 255.21,363.12 256.35,363.07 257.42,363.03 258.41,363.00 259.33,362.97 260.18,362.94 260.96,362.92 261.69,362.90 262.35,362.88 262.96,362.87 263.52,362.86 264.04,362.85 264.50,362.84 264.93,362.83 265.31,362.83 265.66,362.82 265.98,362.82 266.27,362.82 266.52,362.81 266.75,362.81 266.96,362.81 267.14,362.81 267.31,362.81 267.46,362.80 267.59,362.80 267.70,362.80 267.81,362.80 267.90,362.80 267.98,362.80 268.05,362.80 268.11,362.80 268.16,362.80 268.21,362.80 268.25,362.80 268.29,362.80 268.32,362.80 268.34,362.80 268.37,362.80 268.39,362.80 268.40,362.80 268.42,362.80 268.43,362.80 268.44,362.80 268.45,362.80 268.46,362.80 268.47,362.80 268.47,362.80 268.48,362.80 268.48,362.80 268.50,362.80" stroke="#C77CFF" class="cv"/>
<line x1="119.46" y1="549.1" x2="119.46" y2="362.8" class="ds"/>
<text x="175.35" y="340.69" class="ti" text-anchor="middle">Threshold vs PCF Curves <tspan id="o10" class="h1">1</tspan>0–<tspan id="o11" class="h1">1</tspan>4 GW</text>
<text x="175.35" y="597.82" class="ax" text-anchor="middle">Threshold</text>
<text transform="translate(26.4,455.95) rotate(-90)" class="ax" text-anchor="middle">PCF</text>
<text x="-0.2" y="326.13" class="tag">C</text>
<rect x="441.69" y="353.49" width="204.93" height="204.93" fill="#EBEBEB"/>
<line x1="441.69" x2="646.62" y1="525.81" y2="525.81" class="mn"/>
<line y1="353.49" y2="558.42" x1="474.29" x2="474.29" class="mn"/>
<line x1="441.69" x2="646.62" y1="479.24" y2="479.24" class="mn"/>
<line y1="353.49" y2="558.42" x1="520.86" x2="520.86" class="mn"/>
<line x1="441.69" x2="646.62" y1="432.66" y2="432.66" class="mn"/>
<line y1="353.49" y2="558.42" x1="567.44" x2="567.44" class="mn"/>
<line x1="441.69" x2="646.62" y1="386.09" y2="386.09" class="mn"/>
<line y1="353.49" y2="558.42" x1="614.01" x2="614.01" class="mn"/>
<line x1="441.69" x2="646.62" y1="549.1" y2="549.1" class="mj"/>
<line y1="353.49" y2="558.42" x1="451" x2="451" class="mj"/>
<line x1="441.69" x2="646.62" y1="502.53" y2="502.53" class="mj"/>
<line y1="353.49" y2="558.42" x1="497.57" x2="497.57" class="mj"/>
<line x1="441.69" x2="646.62" y1="455.95" y2="455.95" class="mj"/>
<line y1="353.49" y2="558.42" x1="544.15" x2="544.15" class="mj"/>
<line x1="441.69" x2="646.62" y1="409.38" y2="409.38" class="mj"/>
<line y1="353.49" y2="558.42" x1="590.73" x2="590.73" class="mj"/>
<line x1="441.69" x2="646.62" y1="362.8" y2="362.8" class="mj"/>
<line y1="353.49" y2="558.42" x1="637.3" x2="637.3" class="mj"/>
<line x1="437.29" x2="441.69" y1="549.1" y2="549.1" class="tk"/>
<line y1="558.42" y2="562.82" x1="451" x2="451" class="tk"/>
<line x1="437.29" x2="441.69" y1="502.53" y2="502.53" class="tk"/>
<line y1="558.42" y2="562.82" x1="497.57" x2="497.57" class="tk"/>
<line x1="437.29" x2="441.69" y1="455.95" y2="455.95" class="tk"/>
<line y1="558.42" y2="562.82" x1="544.15" x2="544.15" class="tk"/>
<line x1="437.29" x2="441.69" y1="409.38" y2="409.38" class="tk"/>
<line y1="558.42" y2="562.82" x1="590.73" x2="590.73" class="tk"/>
<line x1="437.29" x2="441.69" y1="362.8" y2="362.8" class="tk"/>
<line y1="558.42" y2="562.82" x1="637.3" x2="637.3" class="tk"/>
<text x="433.38" y="554.55" class="tl" text-anchor="end">0.00</text>
<text x="451" y="577.62" class="tl" text-anchor="middle">0.00</text>
<text x="433.38" y="507.98" class="tl" text-anchor="end">0.25</text>
<text x="497.57" y="577.62" class="tl" text-anchor="middle">0.25</text>
<text x="433.38" y="461.4" class="tl" text-anchor="end">0.50</text>
<text x="544.15" y="577.62" class="tl" text-anchor="middle">0.50</text>
<text x="433.38" y="414.82" class="tl" text-anchor="end">0.75</text>
<text x="590.73" y="577.62" class="tl" text-anchor="middle">0.75</text>
<text x="433.38" y="368.25" class="tl" text-anchor="end"><tspan id="o12" class="h1">1</tspan>.00</text>
<text x="637.3" y="577.62" class="tl" text-anchor="middle"><tspan id="o13" class="h1">1</tspan>.00</text>
<polyline points="451.02,549.09 451.02,549.08 451.03,549.08 451.03,549.07 451.04,549.06 451.05,549.04 451.06,549.02 451.07,548.99 451.08,548.96 451.10,548.91 451.11,548.86 451.13,548.79 451.16,548.70 451.18,548.59 451.21,548.46 451.25,548.30 451.29,548.11 451.34,547.87 451.39,547.60 451.45,547.28 451.52,546.90 451.60,546.46 451.69,545.96 451.80,545.38 451.91,544.73 452.04,543.98 452.19,543.15 452.36,542.21 452.54,541.17 452.75,540.03 452.98,538.76 453.23,537.38 453.52,535.88 453.84,534.25 454.19,532.49 454.57,530.60 455.00,528.59 455.46,526.44 455.98,524.17 456.54,521.78 457.15,519.26 457.81,516.63 458.54,513.88 459.32,511.02 460.17,508.07 461.09,505.02 462.08,501.88 463.15,498.66 464.29,495.37 465.51,492.02 466.81,488.62 468.21,485.17 469.68,481.69 471.26,478.17 472.92,474.65 474.68,471.11 476.53,467.57 478.48,464.04 480.53,460.53 482.67,457.04 484.92,453.58 487.26,450.15 489.69,446.78 492.22,443.45 494.84,440.17 497.55,436.96 500.35,433.81 503.23,430.73 506.19,427.72 509.23,424.79 512.33,421.94 515.50,419.16 518.72,416.47 522.00,413.86 525.33,411.33 528.70,408.89 532.10,406.53 535.52,404.26 538.97,402.07 542.42,399.97 545.88,397.95 549.33,396.01 552.78,394.15 556.20,392.37 559.60,390.67 562.97,389.04 566.30,387.49 569.58,386.01 572.80,384.61 575.97,383.27 579.07,381.99 582.11,380.78 585.07,379.64 587.95,378.55 590.75,377.52 593.46,376.55 596.08,375.63 598.61,374.76 601.04,373.94 603.38,373.16 605.63,372.44 607.77,371.75 609.82,371.11 611.77,370.50 613.62,369.93 615.38,369.40 617.04,368.90 618.62,368.43 620.09,368.00 621.49,367.59 622.79,367.21 624.01,366.85 625.15,366.52 626.22,366.22 627.21,365.93 628.13,365.67 628.98,365.42 629.76,365.19 630.49,364.98 631.15,364.79 631.76,364.61 632.32,364.44 632.84,364.29 633.30,364.15 633.73,364.02 634.11,363.90 634.46,363.79 634.78,363.69 635.07,363.60 635.32,363.52 635.55,363.44 635.76,363.38 635.94,363.31 636.11,363.26 636.26,363.21 636.39,363.16 636.50,363.12 636.61,363.08 636.70,363.05 636.78,363.02 636.85,362.99 636.91,362.97 636.96,362.95 637.01,362.93 637.05,362.91 637.09,362.90 637.12,362.88 637.14,362.87 637.17,362.86 637.19,362.85 637.20,362.85 637.22,362.84 637.23,362.83 637.24,362.83 637.25,362.82 637.26,362.82 637.27,362.82 637.27,362.81 637.28,362.81 637.28,362.81 637.30,362.80" stroke="#F8766D" class="cv"/>
<polyline points="451.02,549.07 451.02,549.06 451.03,549.04 451.03,549.02 451.04,548.99 451.05,548.95 451.06,548.90 451.07,548.83 451.08,548.74 451.10,548.62 451.11,548.48 451.13,548.31 451.16,548.10 451.18,547.84 451.21,547.53 451.25,547.16 451.29,546.73 451.34,546.23 451.39,545.64 451.45,544.98 451.52,544.21 451.60,543.35 451.69,542.39 451.80,541.31 451.91,540.11 452.04,538.80 452.19,537.36 452.36,535.80 452.54,534.11 452.75,532.29 452.98,530.35 453.23,528.27 453.52,526.08 453.84,523.76 454.19,521.32 454.57,518.78 455.00,516.12 455.46,513.36 455.98,510.51 456.54,507.57 457.15,504.55 457.81,501.45 458.54,498.29 459.32,495.07 460.17,491.80 461.09,488.49 462.08,485.14 463.15,481.77 464.29,478.38 465.51,474.98 466.81,471.57 468.21,468.17 469.68,464.77 471.26,461.39 472.92,458.03 474.68,454.69 476.53,451.39 478.48,448.13 480.53,444.90 482.67,441.72 484.92,438.59 487.26,435.51 489.69,432.48 492.22,429.51 494.84,426.61 497.55,423.76 500.35,420.98 503.23,418.27 506.19,415.62 509.23,413.04 512.33,410.53 515.50,408.10 518.72,405.73 522.00,403.44 525.33,401.21 528.70,399.07 532.10,396.99 535.52,394.99 538.97,393.06 542.42,391.20 545.88,389.41 549.33,387.70 552.78,386.05 556.20,384.48 559.60,382.98 562.97,381.54 566.30,380.17 569.58,378.87 572.80,377.64 575.97,376.47 579.07,375.36 582.11,374.32 585.07,373.34 587.95,372.41 590.75,371.55 593.46,370.74 596.08,369.98 598.61,369.28 601.04,368.63 603.38,368.02 605.63,367.47 607.77,366.96 609.82,366.49 611.77,366.06 613.62,365.67 615.38,365.32 617.04,365.00 618.62,364.71 620.09,364.45 621.49,364.22 622.79,364.02 624.01,363.84 625.15,363.68 626.22,363.55 627.21,363.43 628.13,363.32 628.98,363.23 629.76,363.16 630.49,363.09 631.15,363.04 631.76,362.99 632.32,362.95 632.84,362.92 633.30,362.90 633.73,362.88 634.11,362.86 634.46,362.84 634.78,362.83 635.07,362.83 635.32,362.82 635.55,362.81 635.76,362.81 635.94,362.81 636.11,362.81 636.26,362.80 636.39,362.80 636.50,362.80 636.61,362.80 636.70,362.80 636.78,362.80 636.85,362.80 636.91,362.80 636.96,362.80 637.01,362.80 637.05,362.80 637.09,362.80 637.12,362.80 637.14,362.80 637.17,362.80 637.19,362.80 637.20,362.80 637.22,362.80 637.23,362.80 637.24,362.80 637.25,362.80 637.26,362.80 637.27,362.80 637.27,362.80 637.28,362.80 637.28,362.80 637.30,362.80" stroke="#7CAE00" class="cv"/>
<polyline points="451.02,549.07 451.02,549.06 451.03,549.05 451.03,549.03 451.04,549.00 451.05,548.96 451.06,548.91 451.07,548.85 451.08,548.77 451.10,548.68 451.11,548.55 451.13,548.40 451.16,548.22 451.18,548.00 451.21,547.73 451.25,547.41 451.29,547.04 451.34,546.60 451.39,546.09 451.45,545.51 451.52,544.84 451.60,544.08 451.69,543.22 451.80,542.26 451.91,541.19 452.04,540.00 452.19,538.70 452.36,537.28 452.54,535.72 452.75,534.05 452.98,532.24 453.23,530.30 453.52,528.23 453.84,526.03 454.19,523.70 454.57,521.25 455.00,518.68 455.46,516.00 455.98,513.20 456.54,510.30 457.15,507.30 457.81,504.21 458.54,501.04 459.32,497.78 460.17,494.46 461.09,491.08 462.08,487.65 463.15,484.17 464.29,480.66 465.51,477.12 466.81,473.56 468.21,470.00 469.68,466.43 471.26,462.86 472.92,459.30 474.68,455.77 476.53,452.26 478.48,448.78 480.53,445.35 482.67,441.95 484.92,438.61 487.26,435.32 489.69,432.08 492.22,428.92 494.84,425.81 497.55,422.78 500.35,419.82 503.23,416.94 506.19,414.13 509.23,411.40 512.33,408.76 515.50,406.20 518.72,403.72 522.00,401.33 525.33,399.02 528.70,396.80 532.10,394.67 535.52,392.62 538.97,390.66 542.42,388.78 545.88,386.99 549.33,385.28 552.78,383.65 556.20,382.10 559.60,380.64 562.97,379.25 566.30,377.94 569.58,376.70 572.80,375.53 575.97,374.44 579.07,373.42 582.11,372.46 585.07,371.56 587.95,370.73 590.75,369.96 593.46,369.25 596.08,368.59 598.61,367.98 601.04,367.42 603.38,366.91 605.63,366.44 607.77,366.02 609.82,365.63 611.77,365.28 613.62,364.97 615.38,364.69 617.04,364.44 618.62,364.21 620.09,364.01 621.49,363.84 622.79,363.69 624.01,363.55 625.15,363.43 626.22,363.33 627.21,363.24 628.13,363.17 628.98,363.10 629.76,363.05 630.49,363.00 631.15,362.97 631.76,362.93 632.32,362.91 632.84,362.88 633.30,362.87 633.73,362.85 634.11,362.84 634.46,362.83 634.78,362.82 635.07,362.82 635.32,362.81 635.55,362.81 635.76,362.81 635.94,362.81 636.11,362.80 636.26,362.80 636.39,362.80 636.50,362.80 636.61,362.80 636.70,362.80 636.78,362.80 636.85,362.80 636.91,362.80 636.96,362.80 637.01,362.80 637.05,362.80 637.09,362.80 637.12,362.80 637.14,362.80 637.17,362.80 637.19,362.80 637.20,362.80 637.22,362.80 637.23,362.80 637.24,362.80 637.25,362.80 637.26,362.80 637.27,362.80 637.27,362.80 637.28,362.80 637.28,362.80 637.30,362.80" stroke="#00BFC4" class="cv"/>
<polyline points="451.02,548.46 451.02,548.35 451.03,548.23 451.03,548.08 451.04,547.92 451.05,547.73 451.06,547.52 451.07,547.28 451.08,547.01 451.10,546.71 451.11,546.36 451.13,545.98 451.16,545.55 451.18,545.07 451.21,544.54 451.25,543.95 451.29,543.30 451.34,542.58 451.39,541.80 451.45,540.94 451.52,540.00 451.60,538.97 451.69,537.86 451.80,536.66 451.91,535.36 452.04,533.96 452.19,532.45 452.36,530.84 452.54,529.12 452.75,527.29 452.98,525.34 453.23,523.28 453.52,521.10 453.84,518.80 454.19,516.39 454.57,513.86 455.00,511.22 455.46,508.47 455.98,505.61 456.54,502.64 457.15,499.58 457.81,496.42 458.54,493.16 459.32,489.83 460.17,486.42 461.09,482.93 462.08,479.39 463.15,475.79 464.29,472.15 465.51,468.48 466.81,464.77 468.21,461.05 469.68,457.33 471.26,453.60 472.92,449.89 474.68,446.19 476.53,442.53 478.48,438.90 480.53,435.33 482.67,431.80 484.92,428.34 487.26,424.95 489.69,421.64 492.22,418.41 494.84,415.26 497.55,412.21 500.35,409.26 503.23,406.41 506.19,403.67 509.23,401.03 512.33,398.50 515.50,396.08 518.72,393.76 522.00,391.56 525.33,389.47 528.70,387.49 532.10,385.62 535.52,383.85 538.97,382.18 542.42,380.62 545.88,379.15 549.33,377.78 552.78,376.50 556.20,375.30 559.60,374.19 562.97,373.16 566.30,372.21 569.58,371.33 572.80,370.52 575.97,369.78 579.07,369.10 582.11,368.47 585.07,367.90 587.95,367.37 590.75,366.90 593.46,366.47 596.08,366.07 598.61,365.72 601.04,365.40 603.38,365.11 605.63,364.85 607.77,364.62 609.82,364.41 611.77,364.22 613.62,364.05 615.38,363.90 617.04,363.77 618.62,363.65 620.09,363.55 621.49,363.45 622.79,363.37 624.01,363.30 625.15,363.23 626.22,363.18 627.21,363.13 628.13,363.08 628.98,363.05 629.76,363.01 630.49,362.98 631.15,362.96 631.76,362.94 632.32,362.92 632.84,362.90 633.30,362.89 633.73,362.87 634.11,362.86 634.46,362.85 634.78,362.85 635.07,362.84 635.32,362.83 635.55,362.83 635.76,362.82 635.94,362.82 636.11,362.82 636.26,362.82 636.39,362.81 636.50,362.81 636.61,362.81 636.70,362.81 636.78,362.81 636.85,362.81 636.91,362.80 636.96,362.80 637.01,362.80 637.05,362.80 637.09,362.80 637.12,362.80 637.14,362.80 637.17,362.80 637.19,362.80 637.20,362.80 637.22,362.80 637.23,362.80 637.24,362.80 637.25,362.80 637.26,362.80 637.27,362.80 637.27,362.80 637.28,362.80 637.28,362.80 637.30,362.80" stroke="#C77CFF" class="cv"/>
<line x1="488.26" y1="549.1" x2="488.26" y2="362.8" class="ds"/>
<text x="544.15" y="340.69" class="ti" text-anchor="middle">Threshold vs PCF Curves <tspan id="o14" class="h1">1</tspan>5–26 GW</text>
<text x="544.15" y="597.82" class="ax" text-anchor="middle">Threshold</text>
<text transform="translate(395.4,455.95) rotate(-90)" class="ax" text-anchor="middle">PCF</text>
<text x="368.8" y="326.13" class="tag">D</text>
<rect x="72.48" y="665.28" width="204.93" height="204.93" fill="#EBEBEB"/>
<line x1="72.48" x2="277.42" y1="837.61" y2="837.61" class="mn"/>
<line y1="665.28" y2="870.22" x1="105.09" x2="105.09" class="mn"/>
<line x1="72.48" x2="277.42" y1="791.04" y2="791.04" class="mn"/>
<line y1="665.28" y2="870.22" x1="151.66" x2="151.66" class="mn"/>
<line x1="72.48" x2="277.42" y1="744.46" y2="744.46" class="mn"/>
<line y1="665.28" y2="870.22" x1="198.24" x2="198.24" class="mn"/>
<line x1="72.48" x2="277.42" y1="697.89" y2="697.89" class="mn"/>
<line y1="665.28" y2="870.22" x1="244.81" x2="244.81" class="mn"/>
<line x1="72.48" x2="277.42" y1="860.9" y2="860.9" class="mj"/>
<line y1="665.28" y2="870.22" x1="81.8" x2="81.8" class="mj"/>
<line x1="72.48" x2="277.42" y1="814.32" y2="814.32" class="mj"/>
<line y1="665.28" y2="870.22" x1="128.38" x2="128.38" class="mj"/>
<line x1="72.48" x2="277.42" y1="767.75" y2="767.75" class="mj"/>
<line y1="665.28" y2="870.22" x1="174.95" x2="174.95" class="mj"/>
<line x1="72.48" x2="277.42" y1="721.17" y2="721.17" class="mj"/>
<line y1="665.28" y2="870.22" x1="221.53" x2="221.53" class="mj"/>
<line x1="72.48" x2="277.42" y1="674.6" y2="674.6" class="mj"/>
<line y1="665.28" y2="870.22" x1="268.1" x2="268.1" class="mj"/>
<line x1="68.08" x2="72.48" y1="860.9" y2="860.9" class="tk"/>
<line y1="870.22" y2="874.62" x1="81.8" x2="81.8" class="tk"/>
<line x1="68.08" x2="72.48" y1="814.32" y2="814.32" class="tk"/>
<line y1="870.22" y2="874.62" x1="128.38" x2="128.38" class="tk"/>
<line x1="68.08" x2="72.48" y1="767.75" y2="767.75" class="tk"/>
<line y1="870.22" y2="874.62" x1="174.95" x2="174.95" class="tk"/>
<line x1="68.08" x2="72.48" y1="721.17" y2="721.17" class="tk"/>
<line y1="870.22" y2="874.62" x1="221.53" x2="221.53" class="tk"/>
<line x1="68.08" x2="72.48" y1="674.6" y2="674.6" class="tk"/>
<line y1="870.22" y2="874.62" x1="268.1" x2="268.1" class="tk"/>
<text x="64.19" y="866.35" class="tl" text-anchor="end">0.00</text>
<text x="81.8" y="889.42" class="tl" text-anchor="middle">0.00</text>
<text x="64.19" y="819.77" class="tl" text-anchor="end">0.25</text>
<text x="128.38" y="889.42" class="tl" text-anchor="middle">0.25</text>
<text x="64.19" y="773.2" class="tl" text-anchor="end">0.50</text>
<text x="174.95" y="889.42" class="tl" text-anchor="middle">0.50</text>
<text x="64.19" y="726.62" class="tl" text-anchor="end">0.75</text>
<text x="221.53" y="889.42" class="tl" text-anchor="middle">0.75</text>
<text x="64.19" y="680.05" class="tl" text-anchor="end"><tspan id="o15" class="h1">1</tspan>.00</text>
<text x="268.1" y="889.42" class="tl" text-anchor="middle"><tspan id="o16" class="h1">1</tspan>.00</text>
<polyline points="81.87,860.88 81.89,860.88 81.91,860.87 81.94,860.87 81.98,860.86 82.02,860.85 82.06,860.84 82.12,860.83 82.19,860.82 82.27,860.80 82.37,860.79 82.48,860.77 82.61,860.74 82.76,860.72 82.93,860.69 83.14,860.65 83.37,860.61 83.63,860.56 83.93,860.51 84.28,860.45 84.66,860.38 85.10,860.30 85.59,860.21 86.13,860.10 86.74,859.99 87.41,859.86 88.15,859.71 88.97,859.54 89.87,859.36 90.85,859.15 91.91,858.92 93.07,858.67 94.32,858.38 95.68,858.06 97.13,857.71 98.68,857.33 100.35,856.90 102.12,856.44 104.00,855.92 105.99,855.36 108.08,854.75 110.29,854.09 112.61,853.36 115.03,852.58 117.56,851.73 120.19,850.81 122.91,849.82 125.73,848.75 128.64,847.61 131.64,846.39 134.71,845.09 137.86,843.69 141.07,842.22 144.34,840.64 147.67,838.98 151.04,837.22 154.44,835.37 157.88,833.42 161.34,831.37 164.82,829.23 168.30,826.98 171.78,824.64 175.25,822.21 178.70,819.68 182.13,817.06 185.53,814.35 188.89,811.55 192.21,808.67 195.48,805.71 198.69,802.67 201.84,799.57 204.93,796.40 207.95,793.18 210.89,789.90 213.75,786.57 216.54,783.20 219.24,779.80 221.85,776.38 224.38,772.93 226.82,769.48 229.17,766.02 231.43,762.57 233.60,759.12 235.67,755.70 237.66,752.30 239.56,748.93 241.38,745.60 243.10,742.32 244.74,739.10 246.30,735.93 247.78,732.83 249.18,729.79 250.50,726.83 251.75,723.95 252.92,721.15 254.03,718.44 255.07,715.82 256.05,713.29 256.96,710.86 257.82,708.52 258.62,706.27 259.37,704.13 260.06,702.08 260.71,700.13 261.32,698.28 261.88,696.52 262.40,694.86 262.88,693.28 263.32,691.81 263.74,690.41 264.12,689.11 264.47,687.89 264.79,686.75 265.09,685.68 265.36,684.69 265.61,683.77 265.84,682.92 266.05,682.14 266.25,681.41 266.42,680.75 266.58,680.14 266.73,679.58 266.86,679.06 266.98,678.60 267.09,678.17 267.19,677.79 267.29,677.44 267.37,677.12 267.44,676.83 267.51,676.58 267.57,676.35 267.63,676.14 267.68,675.96 267.72,675.79 267.76,675.64 267.80,675.51 267.83,675.40 267.86,675.29 267.89,675.20 267.91,675.12 267.93,675.05 267.95,674.99 267.97,674.94 267.98,674.89 268.00,674.85 268.01,674.81 268.02,674.78 268.03,674.76 268.04,674.73 268.04,674.71 268.05,674.70 268.06,674.68 268.06,674.67 268.07,674.66 268.07,674.65 268.07,674.64 268.08,674.63 268.08,674.63 268.08,674.62 268.08,674.62 268.10,674.60" stroke="#F8766D" class="cv"/>
<polyline points="81.83,860.88 81.84,860.88 81.86,860.87 81.88,860.87 81.91,860.86 81.95,860.85 82.00,860.84 82.07,860.83 82.15,860.82 82.25,860.80 82.38,860.79 82.54,860.77 82.73,860.74 82.96,860.72 83.23,860.69 83.56,860.65 83.94,860.61 84.38,860.56 84.89,860.51 85.48,860.45 86.15,860.38 86.91,860.30 87.77,860.21 88.72,860.10 89.78,859.99 90.95,859.86 92.24,859.71 93.64,859.54 95.17,859.36 96.82,859.15 98.59,858.92 100.48,858.67 102.51,858.38 104.65,858.06 106.91,857.71 109.30,857.33 111.79,856.90 114.40,856.44 117.12,855.92 119.93,855.36 122.84,854.75 125.83,854.09 128.91,853.36 132.06,852.58 135.28,851.73 138.55,850.81 141.88,849.82 145.25,848.75 148.66,847.61 152.09,846.39 155.55,845.09 159.02,843.69 162.49,842.22 165.96,840.64 169.43,838.98 172.87,837.22 176.30,835.37 179.70,833.42 183.07,831.37 186.40,829.23 189.69,826.98 192.93,824.64 196.12,822.21 199.25,819.68 202.32,817.06 205.33,814.35 208.28,811.55 211.15,808.67 213.96,805.71 216.69,802.67 219.35,799.57 221.93,796.40 224.43,793.18 226.85,789.90 229.20,786.57 231.46,783.20 233.64,779.80 235.75,776.38 237.77,772.93 239.71,769.48 241.57,766.02 243.35,762.57 245.05,759.12 246.67,755.70 248.22,752.30 249.69,748.93 251.08,745.60 252.40,742.32 253.65,739.10 254.83,735.93 255.94,732.83 256.99,729.79 257.96,726.83 258.88,723.95 259.73,721.15 260.53,718.44 261.27,715.82 261.95,713.29 262.58,710.86 263.16,708.52 263.70,706.27 264.19,704.13 264.63,702.08 265.04,700.13 265.41,698.28 265.74,696.52 266.04,694.86 266.31,693.28 266.55,691.81 266.76,690.41 266.95,689.11 267.12,687.89 267.27,686.75 267.40,685.68 267.51,684.69 267.60,683.77 267.69,682.92 267.76,682.14 267.82,681.41 267.87,680.75 267.91,680.14 267.95,679.58 267.98,679.06 268.00,678.60 268.02,678.17 268.04,677.79 268.05,677.44 268.06,677.12 268.07,676.83 268.08,676.58 268.08,676.35 268.09,676.14 268.09,675.96 268.09,675.79 268.10,675.64 268.10,675.51 268.10,675.40 268.10,675.29 268.10,675.20 268.10,675.12 268.10,675.05 268.10,674.99 268.10,674.94 268.10,674.89 268.10,674.85 268.10,674.81 268.10,674.78 268.10,674.76 268.10,674.73 268.10,674.71 268.10,674.70 268.10,674.68 268.10,674.67 268.10,674.66 268.10,674.65 268.10,674.64 268.10,674.63 268.10,674.63 268.10,674.62 268.10,674.62 268.10,674.60" stroke="#7CAE00" class="cv"/>
<polyline points="82.07,860.88 82.13,860.88 82.20,860.87 82.29,860.87 82.39,860.86 82.51,860.85 82.65,860.84 82.81,860.83 83.00,860.82 83.22,860.80 83.47,860.79 83.76,860.77 84.09,860.74 84.46,860.72 84.89,860.69 85.36,860.65 85.90,860.61 86.50,860.56 87.16,860.51 87.90,860.45 88.72,860.38 89.62,860.30 90.61,860.21 91.68,860.10 92.86,859.99 94.14,859.86 95.52,859.71 97.00,859.54 98.60,859.36 100.32,859.15 102.14,858.92 104.09,858.67 106.15,858.38 108.34,858.06 110.64,857.71 113.05,857.33 115.59,856.90 118.23,856.44 120.99,855.92 123.86,855.36 126.82,854.75 129.89,854.09 133.04,853.36 136.28,852.58 139.61,851.73 143.00,850.81 146.46,849.82 149.97,848.75 153.54,847.61 157.14,846.39 160.77,845.09 164.43,843.69 168.10,842.22 171.77,840.64 175.44,838.98 179.10,837.22 182.74,835.37 186.34,833.42 189.91,831.37 193.43,829.23 196.90,826.98 200.31,824.64 203.65,822.21 206.93,819.68 210.12,817.06 213.23,814.35 216.26,811.55 219.19,808.67 222.03,805.71 224.77,802.67 227.41,799.57 229.96,796.40 232.40,793.18 234.74,789.90 236.97,786.57 239.10,783.20 241.13,779.80 243.06,776.38 244.89,772.93 246.62,769.48 248.25,766.02 249.79,762.57 251.24,759.12 252.60,755.70 253.88,752.30 255.07,748.93 256.18,745.60 257.22,742.32 258.18,739.10 259.07,735.93 259.90,732.83 260.66,729.79 261.37,726.83 262.02,723.95 262.61,721.15 263.16,718.44 263.66,715.82 264.12,713.29 264.53,710.86 264.91,708.52 265.26,706.27 265.57,704.13 265.85,702.08 266.10,700.13 266.33,698.28 266.54,696.52 266.72,694.86 266.89,693.28 267.03,691.81 267.17,690.41 267.28,689.11 267.39,687.89 267.48,686.75 267.56,685.68 267.63,684.69 267.69,683.77 267.75,682.92 267.80,682.14 267.84,681.41 267.88,680.75 267.91,680.14 267.94,679.58 267.96,679.06 267.98,678.60 268.00,678.17 268.01,677.79 268.03,677.44 268.04,677.12 268.05,676.83 268.06,676.58 268.06,676.35 268.07,676.14 268.08,675.96 268.08,675.79 268.08,675.64 268.09,675.51 268.09,675.40 268.09,675.29 268.09,675.20 268.09,675.12 268.09,675.05 268.10,674.99 268.10,674.94 268.10,674.89 268.10,674.85 268.10,674.81 268.10,674.78 268.10,674.76 268.10,674.73 268.10,674.71 268.10,674.70 268.10,674.68 268.10,674.67 268.10,674.66 268.10,674.65 268.10,674.64 268.10,674.63 268.10,674.63 268.10,674.62 268.10,674.62 268.10,674.60" stroke="#00BFC4" class="cv"/>
<polyline points="82.91,860.88 83.08,860.88 83.27,860.87 83.48,860.87 83.72,860.86 83.99,860.85 84.30,860.84 84.63,860.83 85.01,860.82 85.43,860.80 85.89,860.79 86.40,860.77 86.96,860.74 87.58,860.72 88.26,860.69 89.00,860.65 89.81,860.61 90.69,860.56 91.64,860.51 92.68,860.45 93.79,860.38 95.00,860.30 96.29,860.21 97.68,860.10 99.16,859.99 100.74,859.86 102.43,859.71 104.21,859.54 106.11,859.36 108.11,859.15 110.21,858.92 112.43,858.67 114.75,858.38 117.18,858.06 119.72,857.71 122.36,857.33 125.10,856.90 127.95,856.44 130.88,855.92 133.91,855.36 137.03,854.75 140.23,854.09 143.50,853.36 146.84,852.58 150.25,851.73 153.71,850.81 157.22,849.82 160.77,848.75 164.35,847.61 167.96,846.39 171.58,845.09 175.21,843.69 178.83,842.22 182.45,840.64 186.05,838.98 189.62,837.22 193.16,835.37 196.65,833.42 200.09,831.37 203.48,829.23 206.80,826.98 210.04,824.64 213.21,822.21 216.30,819.68 219.30,817.06 222.21,814.35 225.02,811.55 227.73,808.67 230.34,805.71 232.85,802.67 235.25,799.57 237.55,796.40 239.74,793.18 241.82,789.90 243.79,786.57 245.66,783.20 247.43,779.80 249.09,776.38 250.66,772.93 252.12,769.48 253.50,766.02 254.78,762.57 255.97,759.12 257.08,755.70 258.11,752.30 259.06,748.93 259.94,745.60 260.74,742.32 261.48,739.10 262.16,735.93 262.78,732.83 263.35,729.79 263.86,726.83 264.33,723.95 264.75,721.15 265.13,718.44 265.47,715.82 265.78,713.29 266.06,710.86 266.31,708.52 266.53,706.27 266.73,704.13 266.90,702.08 267.05,700.13 267.19,698.28 267.31,696.52 267.42,694.86 267.51,693.28 267.59,691.81 267.66,690.41 267.73,689.11 267.78,687.89 267.83,686.75 267.87,685.68 267.90,684.69 267.93,683.77 267.96,682.92 267.98,682.14 268.00,681.41 268.02,680.75 268.03,680.14 268.04,679.58 268.05,679.06 268.06,678.60 268.07,678.17 268.07,677.79 268.08,677.44 268.08,677.12 268.08,676.83 268.09,676.58 268.09,676.35 268.09,676.14 268.09,675.96 268.09,675.79 268.10,675.64 268.10,675.51 268.10,675.40 268.10,675.29 268.10,675.20 268.10,675.12 268.10,675.05 268.10,674.99 268.10,674.94 268.10,674.89 268.10,674.85 268.10,674.81 268.10,674.78 268.10,674.76 268.10,674.73 268.10,674.71 268.10,674.70 268.10,674.68 268.10,674.67 268.10,674.66 268.10,674.65 268.10,674.64 268.10,674.63 268.10,674.63 268.10,674.62 268.10,674.62 268.10,674.60" stroke="#C77CFF" class="cv"/>
<line x1="249.47" y1="860.9" x2="249.47" y2="674.6" class="ds"/>
<text x="174.95" y="652.49" class="ti" text-anchor="middle">Threshold vs PNF Curves <tspan id="o17" class="h1">1</tspan>0–<tspan id="o18" class="h1">1</tspan>4 GW</text>
<text x="174.95" y="909.62" class="ax" text-anchor="middle">Threshold</text>
<text transform="translate(26.4,767.75) rotate(-90)" class="ax" text-anchor="middle">PNF</text>
<text x="-0.2" y="637.93" class="tag">E</text>
<rect x="440.88" y="665.28" width="204.93" height="204.93" fill="#EBEBEB"/>
<line x1="440.88" x2="645.82" y1="837.61" y2="837.61" class="mn"/>
<line y1="665.28" y2="870.22" x1="473.49" x2="473.49" class="mn"/>
<line x1="440.88" x2="645.82" y1="791.04" y2="791.04" class="mn"/>
<line y1="665.28" y2="870.22" x1="520.06" x2="520.06" class="mn"/>
<line x1="440.88" x2="645.82" y1="744.46" y2="744.46" class="mn"/>
<line y1="665.28" y2="870.22" x1="566.64" x2="566.64" class="mn"/>
<line x1="440.88" x2="645.82" y1="697.89" y2="697.89" class="mn"/>
<line y1="665.28" y2="870.22" x1="613.21" x2="613.21" class="mn"/>
<line x1="440.88" x2="645.82" y1="860.9" y2="860.9" class="mj"/>
<line y1="665.28" y2="870.22" x1="450.2" x2="450.2" class="mj"/>
<line x1="440.88" x2="645.82" y1="814.32" y2="814.32" class="mj"/>
<line y1="665.28" y2="870.22" x1="496.77" x2="496.77" class="mj"/>
<line x1="440.88" x2="645.82" y1="767.75" y2="767.75" class="mj"/>
<line y1="665.28" y2="870.22" x1="543.35" x2="543.35" class="mj"/>
<line x1="440.88" x2="645.82" y1="721.17" y2="721.17" class="mj"/>
<line y1="665.28" y2="870.22" x1="589.92" x2="589.92" class="mj"/>
<line x1="440.88" x2="645.82" y1="674.6" y2="674.6" class="mj"/>
<line y1="665.28" y2="870.22" x1="636.5" x2="636.5" class="mj"/>
<line x1="436.49" x2="440.88" y1="860.9" y2="860.9" class="tk"/>
<line y1="870.22" y2="874.62" x1="450.2" x2="450.2" class="tk"/>
<line x1="436.49" x2="440.88" y1="814.32" y2="814.32" class="tk"/>
<line y1="870.22" y2="874.62" x1="496.77" x2="496.77" class="tk"/>
<line x1="436.49" x2="440.88" y1="767.75" y2="767.75" class="tk"/>
<line y1="870.22" y2="874.62" x1="543.35" x2="543.35" class="tk"/>
<line x1="436.49" x2="440.88" y1="721.17" y2="721.17" class="tk"/>
<line y1="870.22" y2="874.62" x1="589.92" x2="589.92" class="tk"/>
<line x1="436.49" x2="440.88" y1="674.6" y2="674.6" class="tk"/>
<line y1="870.22" y2="874.62" x1="636.5" x2="636.5" class="tk"/>
<text x="432.58" y="866.35" class="tl" text-anchor="end">0.00</text>
<text x="450.2" y="889.42" class="tl" text-anchor="middle">0.00</text>
<text x="432.58" y="819.77" class="tl" text-anchor="end">0.25</text>
<text x="496.77" y="889.42" class="tl" text-anchor="middle">0.25</text>
<text x="432.58" y="773.2" class="tl" text-anchor="end">0.50</text>
<text x="543.35" y="889.42" class="tl" text-anchor="middle">0.50</text>
<text x="432.58" y="726.62" class="tl" text-anchor="end">0.75</text>
<text x="589.92" y="889.42" class="tl" text-anchor="middle">0.75</text>
<text x="432.58" y="680.05" class="tl" text-anchor="end"><tspan id="o19" class="h1">1</tspan>.00</text>
<text x="636.5" y="889.42" class="tl" text-anchor="middle"><tspan id="o20" class="h1">1</tspan>.00</text>
<polyline points="450.21,860.88 450.22,860.88 450.22,860.87 450.23,860.87 450.24,860.86 450.26,860.85 450.28,860.84 450.31,860.83 450.34,860.82 450.39,860.80 450.44,860.79 450.51,860.77 450.60,860.74 450.71,860.72 450.84,860.69 451.00,860.65 451.19,860.61 451.43,860.56 451.70,860.51 452.02,860.45 452.40,860.38 452.84,860.30 453.34,860.21 453.92,860.10 454.57,859.99 455.32,859.86 456.15,859.71 457.09,859.54 458.13,859.36 459.27,859.15 460.54,858.92 461.92,858.67 463.42,858.38 465.05,858.06 466.81,857.71 468.70,857.33 470.71,856.90 472.86,856.44 475.13,855.92 477.52,855.36 480.04,854.75 482.67,854.09 485.42,853.36 488.28,852.58 491.23,851.73 494.28,850.81 497.42,849.82 500.64,848.75 503.93,847.61 507.28,846.39 510.68,845.09 514.13,843.69 517.61,842.22 521.13,840.64 524.65,838.98 528.19,837.22 531.73,835.37 535.26,833.42 538.77,831.37 542.26,829.23 545.72,826.98 549.15,824.64 552.52,822.21 555.85,819.68 559.13,817.06 562.34,814.35 565.49,811.55 568.57,808.67 571.58,805.71 574.51,802.67 577.36,799.57 580.14,796.40 582.83,793.18 585.44,789.90 587.97,786.57 590.41,783.20 592.77,779.80 595.04,776.38 597.23,772.93 599.33,769.48 601.35,766.02 603.29,762.57 605.15,759.12 606.93,755.70 608.63,752.30 610.26,748.93 611.81,745.60 613.29,742.32 614.69,739.10 616.03,735.93 617.31,732.83 618.52,729.79 619.66,726.83 620.75,723.95 621.78,721.15 622.75,718.44 623.67,715.82 624.54,713.29 625.36,710.86 626.14,708.52 626.86,706.27 627.55,704.13 628.19,702.08 628.80,700.13 629.37,698.28 629.90,696.52 630.40,694.86 630.87,693.28 631.30,691.81 631.71,690.41 632.09,689.11 632.45,687.89 632.78,686.75 633.08,685.68 633.37,684.69 633.63,683.77 633.88,682.92 634.11,682.14 634.32,681.41 634.51,680.75 634.69,680.14 634.86,679.58 635.01,679.06 635.15,678.60 635.28,678.17 635.40,677.79 635.51,677.44 635.61,677.12 635.70,676.83 635.78,676.58 635.86,676.35 635.92,676.14 635.99,675.96 636.04,675.79 636.09,675.64 636.14,675.51 636.18,675.40 636.22,675.29 636.25,675.20 636.28,675.12 636.31,675.05 636.33,674.99 636.35,674.94 636.37,674.89 636.39,674.85 636.40,674.81 636.42,674.78 636.43,674.76 636.44,674.73 636.45,674.71 636.45,674.70 636.46,674.68 636.47,674.67 636.47,674.66 636.48,674.65 636.48,674.64 636.48,674.63 636.49,674.63 636.49,674.62 636.49,674.62 636.50,674.60" stroke="#F8766D" class="cv"/>
<polyline points="450.23,860.88 450.24,860.88 450.26,860.87 450.28,860.87 450.31,860.86 450.35,860.85 450.40,860.84 450.47,860.83 450.56,860.82 450.68,860.80 450.82,860.79 450.99,860.77 451.20,860.74 451.46,860.72 451.77,860.69 452.14,860.65 452.57,860.61 453.07,860.56 453.66,860.51 454.32,860.45 455.09,860.38 455.95,860.30 456.91,860.21 457.99,860.10 459.19,859.99 460.50,859.86 461.94,859.71 463.50,859.54 465.19,859.36 467.01,859.15 468.95,858.92 471.03,858.67 473.22,858.38 475.54,858.06 477.98,857.71 480.52,857.33 483.18,856.90 485.94,856.44 488.79,855.92 491.73,855.36 494.75,854.75 497.85,854.09 501.01,853.36 504.23,852.58 507.50,851.73 510.81,850.81 514.16,849.82 517.53,848.75 520.92,847.61 524.32,846.39 527.73,845.09 531.13,843.69 534.53,842.22 537.91,840.64 541.27,838.98 544.61,837.22 547.91,835.37 551.17,833.42 554.40,831.37 557.58,829.23 560.71,826.98 563.79,824.64 566.82,822.21 569.79,819.68 572.69,817.06 575.54,814.35 578.32,811.55 581.03,808.67 583.68,805.71 586.26,802.67 588.77,799.57 591.20,796.40 593.57,793.18 595.86,789.90 598.09,786.57 600.23,783.20 602.31,779.80 604.31,776.38 606.24,772.93 608.10,769.48 609.89,766.02 611.60,762.57 613.25,759.12 614.82,755.70 616.32,752.30 617.76,748.93 619.13,745.60 620.43,742.32 621.66,739.10 622.83,735.93 623.94,732.83 624.98,729.79 625.96,726.83 626.89,723.95 627.75,721.15 628.56,718.44 629.32,715.82 630.02,713.29 630.67,710.86 631.28,708.52 631.83,706.27 632.34,704.13 632.81,702.08 633.24,700.13 633.63,698.28 633.98,696.52 634.30,694.86 634.59,693.28 634.85,691.81 635.08,690.41 635.28,689.11 635.46,687.89 635.62,686.75 635.75,685.68 635.87,684.69 635.98,683.77 636.07,682.92 636.14,682.14 636.21,681.41 636.26,680.75 636.31,680.14 636.35,679.58 636.38,679.06 636.40,678.60 636.42,678.17 636.44,677.79 636.46,677.44 636.47,677.12 636.47,676.83 636.48,676.58 636.49,676.35 636.49,676.14 636.49,675.96 636.49,675.79 636.50,675.64 636.50,675.51 636.50,675.40 636.50,675.29 636.50,675.20 636.50,675.12 636.50,675.05 636.50,674.99 636.50,674.94 636.50,674.89 636.50,674.85 636.50,674.81 636.50,674.78 636.50,674.76 636.50,674.73 636.50,674.71 636.50,674.70 636.50,674.68 636.50,674.67 636.50,674.66 636.50,674.65 636.50,674.64 636.50,674.63 636.50,674.63 636.50,674.62 636.50,674.62 636.50,674.60" stroke="#7CAE00" class="cv"/>
<polyline points="450.23,860.88 450.24,860.88 450.25,860.87 450.27,860.87 450.30,860.86 450.34,860.85 450.39,860.84 450.45,860.83 450.53,860.82 450.62,860.80 450.75,860.79 450.90,860.77 451.08,860.74 451.30,860.72 451.57,860.69 451.89,860.65 452.26,860.61 452.70,860.56 453.21,860.51 453.79,860.45 454.46,860.38 455.22,860.30 456.08,860.21 457.04,860.10 458.11,859.99 459.30,859.86 460.60,859.71 462.02,859.54 463.58,859.36 465.25,859.15 467.06,858.92 469.00,858.67 471.07,858.38 473.27,858.06 475.60,857.71 478.05,857.33 480.62,856.90 483.30,856.44 486.10,855.92 489.00,855.36 492.00,854.75 495.09,854.09 498.26,853.36 501.52,852.58 504.84,851.73 508.22,850.81 511.65,849.82 515.13,848.75 518.64,847.61 522.18,846.39 525.74,845.09 529.30,843.69 532.87,842.22 536.44,840.64 540.00,838.98 543.53,837.22 547.04,835.37 550.52,833.42 553.95,831.37 557.35,829.23 560.69,826.98 563.98,824.64 567.22,822.21 570.38,819.68 573.49,817.06 576.52,814.35 579.48,811.55 582.36,808.67 585.17,805.71 587.90,802.67 590.54,799.57 593.10,796.40 595.58,793.18 597.97,789.90 600.28,786.57 602.50,783.20 604.63,779.80 606.68,776.38 608.64,772.93 610.52,769.48 612.31,766.02 614.02,762.57 615.65,759.12 617.20,755.70 618.66,752.30 620.05,748.93 621.36,745.60 622.60,742.32 623.77,739.10 624.86,735.93 625.88,732.83 626.84,729.79 627.74,726.83 628.57,723.95 629.34,721.15 630.05,718.44 630.71,715.82 631.32,713.29 631.88,710.86 632.39,708.52 632.86,706.27 633.28,704.13 633.67,702.08 634.02,700.13 634.33,698.28 634.61,696.52 634.86,694.86 635.09,693.28 635.29,691.81 635.46,690.41 635.61,689.11 635.75,687.89 635.87,686.75 635.97,685.68 636.06,684.69 636.13,683.77 636.20,682.92 636.25,682.14 636.30,681.41 636.33,680.75 636.37,680.14 636.39,679.58 636.42,679.06 636.43,678.60 636.45,678.17 636.46,677.79 636.47,677.44 636.48,677.12 636.48,676.83 636.49,676.58 636.49,676.35 636.49,676.14 636.49,675.96 636.50,675.79 636.50,675.64 636.50,675.51 636.50,675.40 636.50,675.29 636.50,675.20 636.50,675.12 636.50,675.05 636.50,674.99 636.50,674.94 636.50,674.89 636.50,674.85 636.50,674.81 636.50,674.78 636.50,674.76 636.50,674.73 636.50,674.71 636.50,674.70 636.50,674.68 636.50,674.67 636.50,674.66 636.50,674.65 636.50,674.64 636.50,674.63 636.50,674.63 636.50,674.62 636.50,674.62 636.50,674.60" stroke="#00BFC4" class="cv"/>
<polyline points="450.84,860.88 450.95,860.88 451.07,860.87 451.22,860.87 451.38,860.86 451.57,860.85 451.78,860.84 452.02,860.83 452.29,860.82 452.59,860.80 452.94,860.79 453.32,860.77 453.75,860.74 454.23,860.72 454.76,860.69 455.35,860.65 456.00,860.61 456.72,860.56 457.50,860.51 458.36,860.45 459.30,860.38 460.33,860.30 461.44,860.21 462.64,860.10 463.94,859.99 465.34,859.86 466.85,859.71 468.46,859.54 470.18,859.36 472.01,859.15 473.96,858.92 476.02,858.67 478.20,858.38 480.50,858.06 482.91,857.71 485.44,857.33 488.08,856.90 490.83,856.44 493.69,855.92 496.66,855.36 499.72,854.75 502.88,854.09 506.14,853.36 509.47,852.58 512.88,851.73 516.37,850.81 519.91,849.82 523.51,848.75 527.15,847.61 530.82,846.39 534.53,845.09 538.25,843.69 541.97,842.22 545.70,840.64 549.41,838.98 553.11,837.22 556.77,835.37 560.40,833.42 563.97,831.37 567.50,829.23 570.96,826.98 574.35,824.64 577.66,822.21 580.89,819.68 584.04,817.06 587.09,814.35 590.04,811.55 592.89,808.67 595.63,805.71 598.27,802.67 600.80,799.57 603.22,796.40 605.54,793.18 607.74,789.90 609.83,786.57 611.81,783.20 613.68,779.80 615.45,776.38 617.12,772.93 618.68,769.48 620.15,766.02 621.52,762.57 622.80,759.12 624.00,755.70 625.11,752.30 626.14,748.93 627.09,745.60 627.97,742.32 628.78,739.10 629.52,735.93 630.20,732.83 630.83,729.79 631.40,726.83 631.93,723.95 632.40,721.15 632.83,718.44 633.23,715.82 633.58,713.29 633.90,710.86 634.19,708.52 634.45,706.27 634.68,704.13 634.89,702.08 635.08,700.13 635.25,698.28 635.40,696.52 635.53,694.86 635.65,693.28 635.75,691.81 635.85,690.41 635.93,689.11 636.00,687.89 636.07,686.75 636.12,685.68 636.17,684.69 636.22,683.77 636.25,682.92 636.29,682.14 636.32,681.41 636.34,680.75 636.36,680.14 636.38,679.58 636.40,679.06 636.41,678.60 636.43,678.17 636.44,677.79 636.45,677.44 636.45,677.12 636.46,676.83 636.47,676.58 636.47,676.35 636.48,676.14 636.48,675.96 636.48,675.79 636.48,675.64 636.49,675.51 636.49,675.40 636.49,675.29 636.49,675.20 636.49,675.12 636.49,675.05 636.50,674.99 636.50,674.94 636.50,674.89 636.50,674.85 636.50,674.81 636.50,674.78 636.50,674.76 636.50,674.73 636.50,674.71 636.50,674.70 636.50,674.68 636.50,674.67 636.50,674.66 636.50,674.65 636.50,674.64 636.50,674.63 636.50,674.63 636.50,674.62 636.50,674.62 636.50,674.60" stroke="#C77CFF" class="cv"/>
<line x1="617.87" y1="860.9" x2="617.87" y2="674.6" class="ds"/>
<text x="543.35" y="652.49" class="ti" text-anchor="middle">Threshold vs PNF Curves <tspan id="o21" class="h1">1</tspan>5–26 GW</text>
<text x="543.35" y="909.62" class="ax" text-anchor="middle">Threshold</text>
<text transform="translate(395.4,767.75) rotate(-90)" class="ax" text-anchor="middle">PNF</text>
<text x="368.8" y="637.93" class="tag">F</text>
<text x="77.5" y="954" class="lt">Model</text>
<rect x="138.2" y="932.3" width="29.8" height="30" fill="#F2F2F2"/>
<line x1="141.1" x2="165.2" y1="947.2" y2="947.2" stroke="#F8766D" stroke-width="2.2"/>
<text x="176.8" y="952.6" class="lx">Conv</text>
<rect x="222.0" y="932.3" width="29.8" height="30" fill="#F2F2F2"/>
<line x1="224.9" x2="249.0" y1="947.2" y2="947.2" stroke="#7CAE00" stroke-width="2.2"/>
<text x="260.6" y="952.6" class="lx">Group I</text>
<rect x="321.2" y="932.3" width="29.8" height="30" fill="#F2F2F2"/>
<line x1="324.09999999999997" x2="348.2" y1="947.2" y2="947.2" stroke="#00BFC4" stroke-width="2.2"/>
<text x="359.8" y="952.6" class="lx">Group I+II</text>
<rect x="438.2" y="932.3" width="29.8" height="30" fill="#F2F2F2"/>
<line x1="441.09999999999997" x2="465.2" y1="947.2" y2="947.2" stroke="#C77CFF" stroke-width="2.2"/>
<text x="477.3" y="952.6" class="lx">Group I+II+III</text>
<path d="M373 0L283 0L283 488L105 488L105 578C215 586 262 606 293 703L373 703Z" transform="matrix(0.01550 0 0 -0.01550 33.90 57.05)" fill="#4D4D4D" stroke="#4D4D4D" stroke-width="16.1"/>
<path d="M373 0L283 0L283 488L105 488L105 578C215 586 262 606 293 703L373 703Z" transform="matrix(0.01550 0 0 -0.01550 252.91 266.42)" fill="#4D4D4D" stroke="#4D4D4D" stroke-width="16.1"/>
<path d="M373 0L283 0L283 488L105 488L105 578C215 586 262 606 293 703L373 703Z" transform="matrix(0.01700 0 0 -0.01700 184.73 29.48)" fill="#000" stroke="#000" stroke-width="14.7"/>
<path d="M373 0L283 0L283 488L105 488L105 578C215 586 262 606 293 703L373 703Z" transform="matrix(0.01700 0 0 -0.01700 213.12 29.48)" fill="#000" stroke="#000" stroke-width="14.7"/>
<path d="M373 0L283 0L283 488L105 488L105 578C215 586 262 606 293 703L373 703Z" transform="matrix(0.01550 0 0 -0.01550 402.80 57.05)" fill="#4D4D4D" stroke="#4D4D4D" stroke-width="16.1"/>
<path d="M373 0L283 0L283 488L105 488L105 578C215 586 262 606 293 703L373 703Z" transform="matrix(0.01550 0 0 -0.01550 621.81 266.42)" fill="#4D4D4D" stroke="#4D4D4D" stroke-width="16.1"/>
<path d="M373 0L283 0L283 488L105 488L105 578C215 586 262 606 293 703L373 703Z" transform="matrix(0.01700 0 0 -0.01700 553.65 29.48)" fill="#000" stroke="#000" stroke-width="14.7"/>
<path d="M373 0L283 0L283 488L105 488L105 578C215 586 262 606 293 703L373 703Z" transform="matrix(0.01550 0 0 -0.01550 34.40 368.25)" fill="#4D4D4D" stroke="#4D4D4D" stroke-width="16.1"/>
<path d="M373 0L283 0L283 488L105 488L105 578C215 586 262 606 293 703L373 703Z" transform="matrix(0.01550 0 0 -0.01550 253.41 577.62)" fill="#4D4D4D" stroke="#4D4D4D" stroke-width="16.1"/>
<path d="M373 0L283 0L283 488L105 488L105 578C215 586 262 606 293 703L373 703Z" transform="matrix(0.01710 0 0 -0.01710 234.70 340.69)" fill="#000" stroke="#000" stroke-width="14.6"/>
<path d="M373 0L283 0L283 488L105 488L105 578C215 586 262 606 293 703L373 703Z" transform="matrix(0.01710 0 0 -0.01710 263.23 340.69)" fill="#000" stroke="#000" stroke-width="14.6"/>
<path d="M373 0L283 0L283 488L105 488L105 578C215 586 262 606 293 703L373 703Z" transform="matrix(0.01550 0 0 -0.01550 403.19 368.25)" fill="#4D4D4D" stroke="#4D4D4D" stroke-width="16.1"/>
<path d="M373 0L283 0L283 488L105 488L105 578C215 586 262 606 293 703L373 703Z" transform="matrix(0.01550 0 0 -0.01550 622.21 577.62)" fill="#4D4D4D" stroke="#4D4D4D" stroke-width="16.1"/>
<path d="M373 0L283 0L283 488L105 488L105 578C215 586 262 606 293 703L373 703Z" transform="matrix(0.01710 0 0 -0.01710 603.50 340.69)" fill="#000" stroke="#000" stroke-width="14.6"/>
<path d="M373 0L283 0L283 488L105 488L105 578C215 586 262 606 293 703L373 703Z" transform="matrix(0.01550 0 0 -0.01550 34.00 680.05)" fill="#4D4D4D" stroke="#4D4D4D" stroke-width="16.1"/>
<path d="M373 0L283 0L283 488L105 488L105 578C215 586 262 606 293 703L373 703Z" transform="matrix(0.01550 0 0 -0.01550 253.01 889.42)" fill="#4D4D4D" stroke="#4D4D4D" stroke-width="16.1"/>
<path d="M373 0L283 0L283 488L105 488L105 578C215 586 262 606 293 703L373 703Z" transform="matrix(0.01710 0 0 -0.01710 234.30 652.49)" fill="#000" stroke="#000" stroke-width="14.6"/>
<path d="M373 0L283 0L283 488L105 488L105 578C215 586 262 606 293 703L373 703Z" transform="matrix(0.01710 0 0 -0.01710 262.83 652.49)" fill="#000" stroke="#000" stroke-width="14.6"/>
<path d="M373 0L283 0L283 488L105 488L105 578C215 586 262 606 293 703L373 703Z" transform="matrix(0.01550 0 0 -0.01550 402.39 680.05)" fill="#4D4D4D" stroke="#4D4D4D" stroke-width="16.1"/>
<path d="M373 0L283 0L283 488L105 488L105 578C215 586 262 606 293 703L373 703Z" transform="matrix(0.01550 0 0 -0.01550 621.41 889.42)" fill="#4D4D4D" stroke="#4D4D4D" stroke-width="16.1"/>
<path d="M373 0L283 0L283 488L105 488L105 578C215 586 262 606 293 703L373 703Z" transform="matrix(0.01710 0 0 -0.01710 602.70 652.49)" fill="#000" stroke="#000" stroke-width="14.6"/>
</svg></div>
</body></html>
